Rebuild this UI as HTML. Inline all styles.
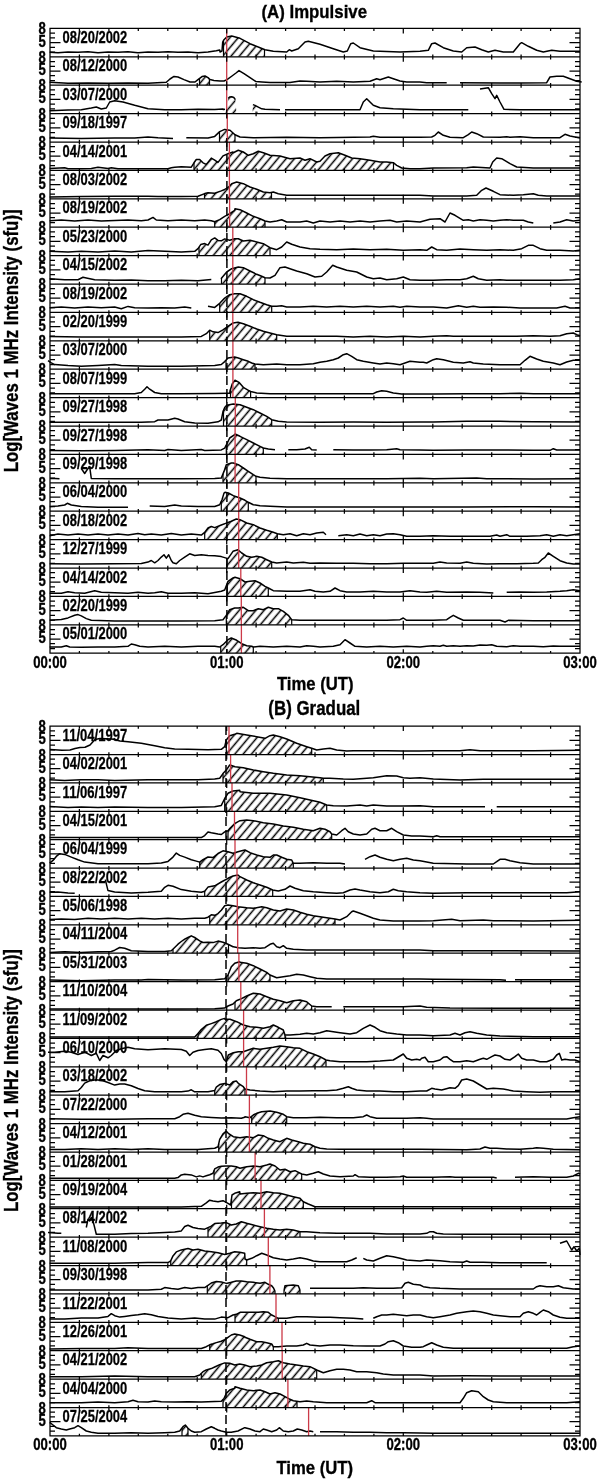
<!DOCTYPE html><html><head><meta charset="utf-8"><title>Waves 1 MHz</title><style>html,body{margin:0;padding:0;background:#fff;}svg{display:block}</style></head><body>
<svg width="600" height="1482" viewBox="0 0 600 1482" font-family="'Liberation Sans', Arial, sans-serif" font-weight="bold">
<style>text{stroke:#000;stroke-width:0.35px}text.d{stroke-width:0.28px}</style>
<defs><pattern id="hat" patternUnits="userSpaceOnUse" width="6.36" height="20" patternTransform="rotate(40)"><line x1="3.18" y1="-5" x2="3.18" y2="25" stroke="#000" stroke-width="1.5"/></pattern></defs>
<rect width="600" height="1482" fill="#fff"/>
<text x="261.5" y="17.5" font-size="19" textLength="105.5" lengthAdjust="spacingAndGlyphs">(A) Impulsive</text>
<path d="M223.5 56.8 223.5 40.5 224 39.7 226.7 37 231.7 36 240 38.3 250 43.7 260 47.7 264.5 49.5 264.5 56.8ZM199.5 85.2 199.5 78.5 202 76.6 205 76 208 77.6 209.5 79.1 209.5 85.2ZM225.5 113.6 228.3 98.3 229.6 97.1 231.7 96.7 233.8 97.5 235.4 99.6 236.5 113.6ZM252.5 113.6 252.9 104.6 255 105.4 258 106.9 258 113.6ZM219.5 142 219.5 131.7 219.7 131.6 224.7 129.4 229.7 130.3 230 130.3 235 134.7 235 142ZM194 170.4 194 162.8 196.3 159.5 199.7 159.5 203 162.8 206.3 164.4 211.3 158.1 214.7 160.1 218 162.4 223 155.9 228 153.7 233 152 233.3 152.7 238.3 150.3 243.3 152 248.3 155.3 253.3 153.7 258.3 151.3 263.3 152.7 270 155.3 280 156 290 158.7 300 158 305 160.3 310 158.7 316.7 162 320 161.3 325 156 330 153.7 338.3 152.7 345 155.3 351.7 158 360 158.7 370 160.3 380 162 386.7 162 393.3 162.7 393.5 162.8 393.5 170.4ZM204.5 198.8 204.5 193.6 204.7 193.6 208 192.8 214.7 193.2 221.3 190.9 224.7 189.5 229.7 186 231.7 183.7 236.7 182 243.3 183.7 250 187 256.7 189.3 263.3 192 270 192.7 271.5 192.4 271.5 198.8ZM214.7 227.2 214.7 221.8 219.7 219.6 224.7 216.3 229.7 213.7 234.7 210.3 235 208.7 240 209.7 246.7 213 253.3 216.3 260 218.7 265 221 265 227.2ZM199 255.6 199 247.1 200.7 244.6 204.7 243.6 208 245.1 211.3 239.8 214.7 237.9 218 240.4 221.3 240.8 224.7 238.9 229.7 240.3 234.7 238.7 238.3 238.7 243.3 241 250 240.3 256.7 242 263.3 243.7 270 247.7 270 255.6ZM221.5 284 221.5 278.1 226.7 272 231.7 268.7 238.3 267 243.3 267.7 250 271 256.7 274.3 261.7 276.3 265 277.7 265 284ZM219.7 312.4 219.7 303.2 224.7 298.1 229.7 294.7 234.7 293.7 240 293.7 246.7 296.3 253.3 299.7 260 302.3 266.7 304.7 271.7 306.3 271.7 306.3 271.7 312.4ZM209.7 340.8 209.7 330.2 213 331.8 218 332.6 223 329.8 228 326.3 233 323 238 322.3 243.3 323.7 250 326.3 256.7 329 263.3 331.3 270 333 276.7 334.7 276.7 334.7 276.7 340.8ZM226 369.2 226 360.1 228 358 234.7 357 238.3 358 243.3 359.7 248.3 361.3 251.7 363 255 364 255 369.2ZM230.5 397.6 230.5 389.5 232.2 384 235 380.2 239.4 382.7 243.7 387.7 249.3 390.8 250.6 391.4 250.6 391.4 250.6 397.6ZM223.5 426 223.5 410.3 224.7 407.5 226.7 405.3 233.3 404 240 404.7 246.7 407.3 253.3 409.7 260 413 266.7 416.3 271.7 419.7 271.7 419.7 271.7 426ZM226.3 454.4 226.3 445 227.3 443 229.7 438 234.7 434.7 235 434 240 436.3 246.7 439.7 253.3 443 260 446.3 263.3 448 263.3 454.4ZM223 482.8 223 473.9 224 471.4 226.3 464.7 231.3 463 233.3 463 238.3 464.7 243.3 468 248.3 471.3 253.3 474.7 256 476.3 256 482.8ZM221.3 511.2 221.3 501.3 222 499.7 224 493.1 225 492.3 228.3 493 233.3 495.7 240 498 245 500.3 248.3 502.3 248.3 511.2ZM204.7 539.6 204.7 532.4 208 528 211.3 526.5 214.7 527.6 221.3 525 226.3 523.1 231.3 521.3 236.3 519 240 519.7 246.7 523 253.3 524.7 260 528 266.7 530.3 273.3 532.3 277.3 533.7 277.3 539.6ZM227 568 227 558.3 228 558.7 233 551.3 238 549.7 241.7 553 246.7 556.3 251.7 557.3 256.7 556.3 261.7 557.3 266.7 559.7 271.7 562 271.7 562 271.7 568ZM227.3 596.4 227.3 583.1 228 581.3 233 578 235 577.3 240 578.7 245 582 250 581.3 255 580.7 260 583 265 586.3 268.3 588 268.3 596.4ZM226.3 624.8 226.3 615.4 226.3 615.4 229.7 609.7 234.7 608 238.3 608 243.3 607.3 248.3 610.7 253.3 610.7 258.3 608.7 263.3 609.7 268.3 607.3 273.3 608.7 278.3 608.7 283.3 611.3 288.3 615.3 291.7 619.7 291.7 619.7 291.7 624.8ZM220.7 653.2 220.7 646.3 223 644.7 228 639.7 231.3 638 236.7 640.3 241.7 643.7 246.7 645.7 251.7 646.3 253.3 647 253.3 653.2Z" fill="url(#hat)" stroke="none"/>
<path d="M223.5 56.8V40.5M264.5 56.8V49.5M199.5 85.2V78.5M209.5 85.2V79.1M219.5 142V131.7M235 142V134.7M194 170.4V162.8M393.5 170.4V162.8M204.5 198.8V193.6M271.5 198.8V192.4M214.7 227.2V221.8M265 227.2V221M199 255.6V247.1M270 255.6V247.7M221.5 284V278.1M265 284V277.7M219.7 312.4V303.2M271.7 312.4V306.3M209.7 340.8V330.2M276.7 340.8V334.7M226 369.2V360.1M255 369.2V364M230.5 397.6V389.5M250.6 397.6V391.4M223.5 426V410.3M271.7 426V419.7M226.3 454.4V445M263.3 454.4V448M223 482.8V473.9M256 482.8V476.3M221.3 511.2V501.3M248.3 511.2V502.3M204.7 539.6V532.4M277.3 539.6V533.7M227 568V558.3M271.7 568V562M227.3 596.4V583.1M268.3 596.4V588M226.3 624.8V615.4M291.7 624.8V619.7M220.7 653.2V646.3M253.3 653.2V647" fill="none" stroke="#000" stroke-width="1.2"/>
<path d="M49.7 52.3 58 52.7 68 52 78 52.3 88 51.7 98 52.7 108 52 118 52.3 128 51.7 138 52.7 148 52 158 52.3 168 51.7 178 52.3 188 52 198 52.7 208 51.9 216.3 50.8 219.7 50 220 52 222 51 222.7 42 224 39.7 226.7 37 231.7 36 240 38.3 250 43.7 260 47.7 265 49.7 273.3 51.3 286.7 52 289.3 49.7 291.7 51 298.3 48.7 305 42 308.3 41.3 320 44.3 333.3 48.7 343.3 52 347.3 51 350.7 43.7 353.3 43 360 47.7 373.3 51 400 52 420 51.3 428.3 50.3 431.7 43.7 435 43 443.3 47.7 453.3 51 461.7 52 466.7 47.7 475 47 481.7 49.7 488.3 52 495 50.3 503.3 52 513.3 52 520 43.7 521.7 42.7 528.3 46.3 536.7 50.3 543.3 52 551.7 50.3 560 51.3 580 51.3M49.7 82.3 68 83.3 88 83 108 83.3 128 83 148 83.3 166.3 82.3 170 79 174 76.4 178 77 184 79.6 190 82 195 82 198 79.6 202 76.6 205 76 208 77.6 210 79.6 214 80.4 220 81 224 81 227 79.6 232 76 236 73 239 70.6 244 73.6 250 77.6 256 81.6 262 82 270 82.4 290 82.6 300 81 306.7 81.3 320 82 336.7 81.3 353.3 82 370 81.3 376.7 78.7 380 79.7 388.3 77 393.3 78.7 400 81 406.7 82 420 82 426.7 82.7 446.7 82.7M460 82.7 500 83 520 83 546.7 82.7 550 77 556.7 76.3 563.3 76.3 570 78.7 576.7 81.3 581.7 82M49.7 110.7 68 110 81.3 109.7 91.3 108 96.3 107 101.3 109 106.3 108 109.7 102 114.7 100.7 123 102 134.7 105.3 148 108.7 164.7 109.7 181.3 109.7 198 109.3 214.7 109.6 223 108.9 223.3 109.6 225 109.2M228.3 98.3 229.6 97.1 231.7 96.7 233.8 97.5 235.4 99.6M252.9 104.6 255 105.4 258.3 107.1 261.7 108.8 265 109.2 280 109.7M285 109.7 360 109.7 363.3 102 366.7 98.7 373.3 105.3 380 107.7 393.3 108.7 420 109.7 468.3 109.7M480 89 488.3 87.7 491.7 93.7 495 98.7 496.7 95.3 500 102 504 109.3 520 109.7 580 109.7M49.7 138 81.3 138.4 114.7 138 134.7 138 148 137 158 137.7 173 138.4M186.3 137.7 208 137.9 214.7 136.4 219.7 131.6 224.7 129.4 229.7 130.3 230 130.3 235 134.7 240 137 253.3 137.7 286.7 137.3 320 137.7 370 137 373.3 136.3 380 137.3 420 137.3 431.7 137 435 135.3 438.3 132 443.3 135.3 450 137.3 463.3 137.7 468.3 134.7 471.7 132 476.7 133.7 483.3 137 500 137.3 506.7 136.7 510 137.3 520 136.7 533.3 137.7 560 137.7 565 134.3 570 136 580 138M49.7 168.5 64.7 167.8 68 168.8 81.3 168.8 91.3 168.5 98 167.2 108 168.5 111.3 167.8 118 168.8 148 168.8 168 168.8 171.3 167.8 174.7 167.2 181.3 166.8 191.3 167.2 194 162.8 196.3 159.5 199.7 159.5 203 162.8 206.3 164.4 211.3 158.1 214.7 160.1 218 162.4 223 155.9 228 153.7 233 152 233.3 152.7 238.3 150.3 243.3 152 248.3 155.3 253.3 153.7 258.3 151.3 263.3 152.7 270 155.3 280 156 290 158.7 300 158 305 160.3 310 158.7 316.7 162 320 161.3 325 156 330 153.7 338.3 152.7 345 155.3 351.7 158 360 158.7 370 160.3 380 162 386.7 162 393.3 162.7 396.7 165.3 401.7 168 410 168.7 420 168.7 433.3 168 466.7 167.7 473.3 167 490 168 492.7 162 496.7 158 501.7 158.7 510 163.7 516.7 167 533.3 168 580 168M49.7 196.9 81.3 196.6 114.7 196.2 148 196.2 158 196.6 181.3 196.6 198 196.2 204.7 193.6 208 192.8 214.7 193.2 221.3 190.9 224.7 189.5 229.7 186 231.7 183.7 236.7 182 243.3 183.7 250 187 256.7 189.3 263.3 192 270 192.7 273.3 192 278.3 193.7 286.7 195.3 303.3 195.3 420 195.3 433.3 196 466.7 196 476.7 195.3 481.7 190.3 486 188 493.3 191.3 500 194.7 513.3 195.3 523.3 194.7 533.3 193.7 538.3 195.3 546.7 196 580 196M49.7 220.7 61.3 220 74.7 221 88 220 101.3 221 114.7 220.4 128 220 141.3 220.7 148 220 153 217.4 156.3 220 168 220.7 181.3 220 194.7 220.7 204.7 220 211.3 220.8 214.7 221.8 219.7 219.6 224.7 216.3 229.7 213.7 234.7 210.3 235 208.7 240 209.7 246.7 213 253.3 216.3 260 218.7 265 221 270 222 276.7 221 281.7 219.7 286.7 222 300 222 306.7 221 313.3 223 320 221 330 222 340 221 350 222 360 221 370 222 380 221 390 220.3 396.7 222 406.7 221 420 222 430 219.3 440 218.7 445 222 450 213 455 215.3 463.3 220.3 468.3 219.7 473.3 221 480 219.7 486.7 220.3 493.3 221 500 220.3 506.7 219.7 513.3 220.3 523.3 220.3 528.3 222 533.3 223M553.3 223 560 222 566.7 219.7 573.3 221 580 220.3M49.7 251.3 68 251.9 81.3 251.3 98 251.9 114.7 250.9 131.3 251.9 148 250.6 164.7 251.3 181.3 251.9 194.7 251.3 198 248.6 200.7 244.6 204.7 243.6 208 245.1 211.3 239.8 214.7 237.9 218 240.4 221.3 240.8 224.7 238.9 229.7 240.3 234.7 238.7 238.3 238.7 243.3 241 250 240.3 256.7 242 263.3 243.7 270 247.7 276.7 249.7 281.7 247 286.7 242 291.7 244.3 300 247 310 248.7 320 249.3 336.7 249.7 353.3 249 370 249.7 386.7 249.3 403.3 250.3 420 249.7 426.7 250.3 431.7 247 436.7 249.7 446.7 250.3 460 249 473.3 249.7 486.7 250.3 500 249.7 513.3 250.3 521.7 248.7 528.3 245.3 533.3 245.3 540 248.7 546.7 250.3 560 250.3 573.3 251 580 250.3M49.7 278.7 64.7 279.7 78 279.7 83 277.3 86.3 278 94.7 279.7 114.7 280.3 131.3 280 148 280.7 164.7 280.7 181.3 280.3 198 280.7 211.3 279.4M221 278.7 226.7 272 231.7 268.7 238.3 267 243.3 267.7 250 271 256.7 274.3 261.7 276.3 265 277.7 270 278 275 275.3 280 267.7 285 267 290 268.7 296.7 271 306.7 273.7 315 277 321.7 276.3 326.7 272 332.7 265.3 336.7 267 346.7 270.3 356.7 272 366.7 277 373.3 278.7 380 278 386.7 279.7 396.7 278.7 403.3 277 410 279.7 420 280.3 433.3 280.3 446.7 279.7 460 279.7 466.7 278.7 473.3 276.3 478.3 278.7 486.7 280.3 500 279.7 506.7 280.3 520 280.3 533.3 280.3 546.7 280.3 560 280.3 573.3 279.7 580 278.7M49.7 307.7 61.3 307 74.7 308 88 307 101.3 307.7 114.7 307 121.3 308.7 128 306.4 134.7 307.7 148 308 161.3 307.7 174.7 308 184.7 307 191.3 308M208 306.3 214.7 307.4 219.7 303.3 224.7 298.1 229.7 294.7 234.7 293.7 240 293.7 246.7 296.3 253.3 299.7 260 302.3 266.7 304.7 271.7 306.3 276.7 306.3 281.7 305.7 286.7 307 300 307 313.3 306.3 326.7 307 340 306.3 353.3 307 366.7 306.3 380 307 393.3 306.3 400 307.3 406.7 306.3 420 307 433.3 307 446.7 308 458.3 305.7 466.7 307.3 473.3 306.3 480 307.3 493.3 307 506.7 307.3 520 308 533.3 308 546.7 308 556.7 308 565 306.3 570 308 580 308M49.7 336.4 81.3 337 114.7 337 148 337 181.3 337 201.3 336.4 206.3 333.7 209.7 330.2 213 331.8 218 332.6 223 329.8 228 326.3 233 323 238 322.3 243.3 323.7 250 326.3 256.7 329 263.3 331.3 270 333 276.7 334.7 286.7 336.3 303.3 336.3 320 336.3 336.7 336.3 353.3 337 370 336.3 386.7 337 403.3 336.3 420 337 433.3 336.3 446.7 335.7 453.3 336.3 466.7 336.3 483.3 336.3 500 336.3 516.7 336.3 533.3 335.7 550 336.3 560 335.7 566.7 333.7 573.3 333 576.7 334.7 580 335.7M48 360.6 51.3 362.9 54.7 364.6 68 365.6 81.3 366.3 98 365.6 114.7 364.6 121.3 365.6 148 366.3 181.3 366.3 214.7 365.6 221.3 364.5 224.7 361.6 228 358 234.7 357 238.3 358 243.3 359.7 248.3 361.3 251.7 363 255 364 263.3 364.7 276.7 364 286.7 364.7 300 364.7 313.3 363.7 320 362.3 326.7 361.3 333.3 359.7 338.3 358 343.3 354.7 346.7 353.7 351.7 356.3 356.7 359.7 363.3 361.3 373.3 363 380 364 386.7 363 393.3 363.7 400 364.7 405 363 410 361.3 420 362.3 423.3 362.3 426.7 363 433.3 359.7 436.7 358.7 443.3 359.7 453.3 362.3 463.3 363 470 361.7 473.3 363 483.3 364 500 364.7 520 364.7 525 360.3 530 356.3 536.7 359 543.3 361.3 553.3 363 560 364.7 566.7 362 573.3 360.3 580 360.3M49.7 393.8 81.3 393.8 114.7 393.8 134.7 393.8 141.3 392.5 144.7 389.2 147 386.8 149.7 389.2 154.7 392.5 161.3 393.8 181.3 393.8 214.7 393.6 228 393.3 229.7 393.3 230.1 390.8 232.2 384 235 380.2 239.4 382.7 243.7 387.7 249.3 390.8 250.6 391.4 256.7 393 270 393.7 286.7 393.7 320 393.7 353.3 393.7 373.3 393.7 376.7 392 381.7 390.7 386.7 391.3 393.3 393 401.7 394 420 394 433.3 394 466.7 393.7 500 393.7 520 393.3 533.3 393.7 580 393.7M49.7 422.3 81.3 422.3 114.7 422.3 141.3 422.3 154.7 421.7 158 420 168 420 174.7 418.3 178 419 184.7 421.7 194.7 423 208 423.2 218 421.8 221.3 420 223 411.6 224.7 407.5 226.7 405.3 233.3 404 240 404.7 246.7 407.3 253.3 409.7 260 413 266.7 416.3 271.7 419.7 278.3 421.3 286.7 422 320 422.3 353.3 422 386.7 422.3 420 422 433.3 422 466.7 421.3 500 421.3 533.3 421.7 580 422M49.7 450.5 81.3 450.8 114.7 450.5 148 449.8 164.7 450.5 168 449.5 181.3 450.5 201.3 449.5 204.7 450.5 221.3 449.9 224.7 448.1 227.3 443 229.7 438 234.7 434.7 235 434 240 436.3 246.7 439.7 253.3 443 260 446.3 263.3 448 268.3 449 275 449.7M288.3 449.7 296.7 449.7 305 449 309.3 447.3 311.7 449.7 316.7 450M333.3 449.7 353.3 450 370 450 386.7 449.7 396.7 448.7 400 449.7 420 450 433.3 450.3 466.7 450 500 450 533.3 450.3 550 450.3 553.3 448.7 556.7 450 580 450M50.2 478.6 55 478.5 59.5 478.7M81.3 468.5 84.7 473.5 87.3 469.5 89.7 466.8 91.3 478.5 114.7 478.8 148 478.8 181.3 478.8 214.7 478.6 221.3 478.1 224 471.4 226.3 464.7 231.3 463 233.3 463 238.3 464.7 243.3 468 248.3 471.3 253.3 474.7 256 476.3 260 477.3 270 478.3 286.7 478.7 320 478.7 353.3 478.7 386.7 478.7 420 478.3 433.3 478.7 476.7 478 486.7 478.7 533.3 479 580 478.7M49.7 506.6 58 506 64.7 505 67.3 503.3 71.3 505 81.3 506.6 98 507.3 114.7 507.3 128 507.3M149.7 506 164.7 506.6 174.7 505 181.3 506 198 506.6 214.7 506.5 219.7 504.8 222 499.7 224 493.1 225 492.3 228.3 493 233.3 495.7 240 498 245 500.3 248.3 502.3 253.3 504.7 260 505.7 270 506.3 286.7 507 320 507 353.3 507 386.7 507 420 507 466.7 507 533.3 506.7 580 507M49.7 535.8 58 534.1 68 535.1 78 534.1 88 535.1 98 534.1 108 535.1 118 534.1 128 535.1 138 533.4 144.7 534.8 151.3 534.1 161.3 535.1 171.3 533.4 181.3 535.1 191.3 534.1 201.3 535.1 204.7 532.4 208 528 211.3 526.5 214.7 527.6 221.3 525 226.3 523.1 231.3 521.3 236.3 519 240 519.7 246.7 523 253.3 524.7 260 528 266.7 530.3 273.3 532.3 277.3 533.7 283.3 534.7 290 533.7 296.7 535.7 303.3 533.7 310 534.7 316.7 533 323.3 532.3 326 534.7M338.3 535.7 346.7 534.7 353.3 535.7 360 534 366.7 535.7 373.3 534.7 380 535.7 386.7 534 393.3 533.7 400 534.7 406.7 536.3 420 536.3 433.3 535.7 450 536.3 466.7 536.3 490 536.3 496.7 535 500 536.3 506.7 534.7 510 536.3 526.7 536.3 540 535.7 546.7 534.7 553.3 536.3 560 534.7 566.7 535.7 573.3 534.7 580 533.7M49.7 563.8 81.3 564.1 114.7 563.8 141.3 563.5 148 562.1 151.3 560.5 154.7 562.8 158 560.5 161.3 557.1 164 554.8 166.3 558.1 168.7 554.8 171.3 560.5 173 562.8 176.3 563.8 179.7 560.5 184.7 557.1 189.7 553.8 194.7 555.5 201.3 554.8 208 555.4 214.7 555.8 221.3 556.6 226.3 558.1 228 558.7 233 551.3 238 549.7 241.7 553 246.7 556.3 251.7 557.3 256.7 556.3 261.7 557.3 266.7 559.7 271.7 562 276.7 563 286.7 562 293.3 563 303.3 562.3 310 563.3 320 563 336.7 563.3 353.3 563.3 370 563.7 386.7 563.7 403.3 563.3 420 563.3 433.3 563.3 440 562 446.7 563 460 563.3 466.7 562 473.3 563.3 486.7 564 500 563.7 516.7 563.7 533.3 563.3 538.3 563 541.7 559.7 545 557.3 548.3 553 553.3 556.3 560 560.7 566.7 563 573.3 564 580 564M49.7 593.3 61.3 593.3 68 591.7 74.7 592.7 84.7 593.3 94.7 590.7 101.3 592.3 114.7 592.7 128 593.3 138 592.3 148 593.3 154.7 592.7 161.3 591.7 168 593.3 181.3 593.3 194.7 592.7 208 593.7 214.7 592.5 221.3 591.2 224.7 590 228 581.3 233 578 235 577.3 240 578.7 245 582 250 581.3 255 580.7 260 583 265 586.3 268.3 588 273.3 590.7 286.7 591.3 300 591.3 310 589.7 315 591.3 323.3 592 330 591.3 335 588 340 590.7 346.7 592 360 592 373.3 591.3 386.7 592 400 592 410 590.7 420 592 426.7 592.3 436.7 591.3 446.7 592.3 466.7 592 480 592.3 493.3 593M506.7 592.3 520 592 533.3 592.3 546.7 592 560 591.3 566.7 590.7 573.3 589.7 580 590.7M49.7 620.3 61.3 619.6 68 617.9 74.7 615.3 78 614.6 81.3 615.9 86.3 618.6 91.3 620.3 114.7 620.9 148 620.9 181.3 620.9 214.7 620.7 223 619.8 226.3 615.4 229.7 609.7 234.7 608 238.3 608 243.3 607.3 248.3 610.7 253.3 610.7 258.3 608.7 263.3 609.7 268.3 607.3 273.3 608.7 278.3 608.7 283.3 611.3 288.3 615.3 291.7 619.7 300 620.3 320 620.3 353.3 620.3 386.7 620.3 400 619.7 403.3 618 406.7 620.3 420 620.3 433.3 620.3 446.7 619.7 450 617.3 453.3 615.3 458.3 618 463.3 620.3 483.3 620.3 500 620.3 505 622 508.3 620.3 533.3 620.7 580 620.7M49.7 647 61.3 647 66.3 645.7 69.7 647 81.3 647.3 98 647 114.7 647 128 646.3 131.3 644 134.7 644.7 139.7 646.3 148 647 164.7 646.3 181.3 647 198 646.3 214.7 646.3 219.7 647 223 644.7 228 639.7 231.3 638 236.7 640.3 241.7 643.7 246.7 645.7 251.7 646.3 253.3 647 260 646.3 273.3 647 286.7 646.3 300 647 306.7 645.7 313.3 646.3 320 647 333.3 646.3 340 644.7 345 639.7 350 643 355 646.3 366.7 647 380 646.3 393.3 647 406.7 646.3 420 647 426.7 646.3 433.3 645.7 440 646.3 443.3 645.3 446.7 646.3 453.3 645.7 460 646.3 466.7 645.7 473.3 646 480 645 486.7 645.3 491.7 644.7 496.7 646.3 506.7 646.7 513.3 645.7 520 646.3 533.3 646.3 543.3 646.7 553.3 646 560 646.3 566.7 646.3 580 646.3" fill="none" stroke="#000" stroke-width="1.5" stroke-linejoin="round"/>
<line x1="226.9" y1="142" x2="226.9" y2="653.2" stroke="#000" stroke-width="1.5" stroke-dasharray="9,4"/>
<path d="M226.7 28.4V56.8M226.7 56.8V85.2M226.7 85.2V113.6M227.3 113.6V142M229.4 142V170.4M229.4 170.4V198.8M229.6 198.8V227.2M232.8 227.2V255.6M232.8 255.6V284M232.8 284V312.4M232.8 312.4V340.8M232.9 340.8V369.2M232.9 369.2V397.6M235.3 397.6V426M235.1 426V454.4M235.1 454.4V482.8M238.7 482.8V511.2M238.7 511.2V539.6M238.7 539.6V568M240.8 568V596.4M241.3 596.4V624.8M241.4 624.8V653.2" stroke="#cc3a48" stroke-width="1.3" fill="none"/>
<path d="M50 33.1h5M580 33.1h-5M50 37.9h5M580 37.9h-5M50 42.6h10.5M580 42.6h-10.5M50 47.3h5M580 47.3h-5M50 52.1h5M580 52.1h-5M79.4 56.8v-2.2M79.4 28.4v2.6M108.9 56.8v-2.2M108.9 28.4v2.6M138.3 56.8v-2.2M138.3 28.4v2.6M167.8 56.8v-2.2M167.8 28.4v2.6M197.2 56.8v-2.2M197.2 28.4v2.6M226.7 56.8v-4M226.7 28.4v5M256.1 56.8v-2.2M256.1 28.4v2.6M285.6 56.8v-2.2M285.6 28.4v2.6M315 56.8v-2.2M315 28.4v2.6M344.4 56.8v-2.2M344.4 28.4v2.6M373.9 56.8v-2.2M373.9 28.4v2.6M403.3 56.8v-4M403.3 28.4v5M432.8 56.8v-2.2M432.8 28.4v2.6M462.2 56.8v-2.2M462.2 28.4v2.6M491.7 56.8v-2.2M491.7 28.4v2.6M521.1 56.8v-2.2M521.1 28.4v2.6M550.6 56.8v-2.2M550.6 28.4v2.6M50 61.5h5M580 61.5h-5M50 66.3h5M580 66.3h-5M50 71h10.5M580 71h-10.5M50 75.7h5M580 75.7h-5M50 80.5h5M580 80.5h-5M79.4 85.2v-2.2M79.4 56.8v2.6M108.9 85.2v-2.2M108.9 56.8v2.6M138.3 85.2v-2.2M138.3 56.8v2.6M167.8 85.2v-2.2M167.8 56.8v2.6M197.2 85.2v-2.2M197.2 56.8v2.6M226.7 85.2v-4M226.7 56.8v5M256.1 85.2v-2.2M256.1 56.8v2.6M285.6 85.2v-2.2M285.6 56.8v2.6M315 85.2v-2.2M315 56.8v2.6M344.4 85.2v-2.2M344.4 56.8v2.6M373.9 85.2v-2.2M373.9 56.8v2.6M403.3 85.2v-4M403.3 56.8v5M432.8 85.2v-2.2M432.8 56.8v2.6M462.2 85.2v-2.2M462.2 56.8v2.6M491.7 85.2v-2.2M491.7 56.8v2.6M521.1 85.2v-2.2M521.1 56.8v2.6M550.6 85.2v-2.2M550.6 56.8v2.6M50 89.9h5M580 89.9h-5M50 94.7h5M580 94.7h-5M50 99.4h10.5M580 99.4h-10.5M50 104.1h5M580 104.1h-5M50 108.9h5M580 108.9h-5M79.4 113.6v-2.2M79.4 85.2v2.6M108.9 113.6v-2.2M108.9 85.2v2.6M138.3 113.6v-2.2M138.3 85.2v2.6M167.8 113.6v-2.2M167.8 85.2v2.6M197.2 113.6v-2.2M197.2 85.2v2.6M226.7 113.6v-4M226.7 85.2v5M256.1 113.6v-2.2M256.1 85.2v2.6M285.6 113.6v-2.2M285.6 85.2v2.6M315 113.6v-2.2M315 85.2v2.6M344.4 113.6v-2.2M344.4 85.2v2.6M373.9 113.6v-2.2M373.9 85.2v2.6M403.3 113.6v-4M403.3 85.2v5M432.8 113.6v-2.2M432.8 85.2v2.6M462.2 113.6v-2.2M462.2 85.2v2.6M491.7 113.6v-2.2M491.7 85.2v2.6M521.1 113.6v-2.2M521.1 85.2v2.6M550.6 113.6v-2.2M550.6 85.2v2.6M50 118.3h5M580 118.3h-5M50 123.1h5M580 123.1h-5M50 127.8h10.5M580 127.8h-10.5M50 132.5h5M580 132.5h-5M50 137.3h5M580 137.3h-5M79.4 142v-2.2M79.4 113.6v2.6M108.9 142v-2.2M108.9 113.6v2.6M138.3 142v-2.2M138.3 113.6v2.6M167.8 142v-2.2M167.8 113.6v2.6M197.2 142v-2.2M197.2 113.6v2.6M226.7 142v-4M226.7 113.6v5M256.1 142v-2.2M256.1 113.6v2.6M285.6 142v-2.2M285.6 113.6v2.6M315 142v-2.2M315 113.6v2.6M344.4 142v-2.2M344.4 113.6v2.6M373.9 142v-2.2M373.9 113.6v2.6M403.3 142v-4M403.3 113.6v5M432.8 142v-2.2M432.8 113.6v2.6M462.2 142v-2.2M462.2 113.6v2.6M491.7 142v-2.2M491.7 113.6v2.6M521.1 142v-2.2M521.1 113.6v2.6M550.6 142v-2.2M550.6 113.6v2.6M50 146.7h5M580 146.7h-5M50 151.5h5M580 151.5h-5M50 156.2h10.5M580 156.2h-10.5M50 160.9h5M580 160.9h-5M50 165.7h5M580 165.7h-5M79.4 170.4v-2.2M79.4 142v2.6M108.9 170.4v-2.2M108.9 142v2.6M138.3 170.4v-2.2M138.3 142v2.6M167.8 170.4v-2.2M167.8 142v2.6M197.2 170.4v-2.2M197.2 142v2.6M226.7 170.4v-4M226.7 142v5M256.1 170.4v-2.2M256.1 142v2.6M285.6 170.4v-2.2M285.6 142v2.6M315 170.4v-2.2M315 142v2.6M344.4 170.4v-2.2M344.4 142v2.6M373.9 170.4v-2.2M373.9 142v2.6M403.3 170.4v-4M403.3 142v5M432.8 170.4v-2.2M432.8 142v2.6M462.2 170.4v-2.2M462.2 142v2.6M491.7 170.4v-2.2M491.7 142v2.6M521.1 170.4v-2.2M521.1 142v2.6M550.6 170.4v-2.2M550.6 142v2.6M50 175.1h5M580 175.1h-5M50 179.9h5M580 179.9h-5M50 184.6h10.5M580 184.6h-10.5M50 189.3h5M580 189.3h-5M50 194.1h5M580 194.1h-5M79.4 198.8v-2.2M79.4 170.4v2.6M108.9 198.8v-2.2M108.9 170.4v2.6M138.3 198.8v-2.2M138.3 170.4v2.6M167.8 198.8v-2.2M167.8 170.4v2.6M197.2 198.8v-2.2M197.2 170.4v2.6M226.7 198.8v-4M226.7 170.4v5M256.1 198.8v-2.2M256.1 170.4v2.6M285.6 198.8v-2.2M285.6 170.4v2.6M315 198.8v-2.2M315 170.4v2.6M344.4 198.8v-2.2M344.4 170.4v2.6M373.9 198.8v-2.2M373.9 170.4v2.6M403.3 198.8v-4M403.3 170.4v5M432.8 198.8v-2.2M432.8 170.4v2.6M462.2 198.8v-2.2M462.2 170.4v2.6M491.7 198.8v-2.2M491.7 170.4v2.6M521.1 198.8v-2.2M521.1 170.4v2.6M550.6 198.8v-2.2M550.6 170.4v2.6M50 203.5h5M580 203.5h-5M50 208.3h5M580 208.3h-5M50 213h10.5M580 213h-10.5M50 217.7h5M580 217.7h-5M50 222.5h5M580 222.5h-5M79.4 227.2v-2.2M79.4 198.8v2.6M108.9 227.2v-2.2M108.9 198.8v2.6M138.3 227.2v-2.2M138.3 198.8v2.6M167.8 227.2v-2.2M167.8 198.8v2.6M197.2 227.2v-2.2M197.2 198.8v2.6M226.7 227.2v-4M226.7 198.8v5M256.1 227.2v-2.2M256.1 198.8v2.6M285.6 227.2v-2.2M285.6 198.8v2.6M315 227.2v-2.2M315 198.8v2.6M344.4 227.2v-2.2M344.4 198.8v2.6M373.9 227.2v-2.2M373.9 198.8v2.6M403.3 227.2v-4M403.3 198.8v5M432.8 227.2v-2.2M432.8 198.8v2.6M462.2 227.2v-2.2M462.2 198.8v2.6M491.7 227.2v-2.2M491.7 198.8v2.6M521.1 227.2v-2.2M521.1 198.8v2.6M550.6 227.2v-2.2M550.6 198.8v2.6M50 231.9h5M580 231.9h-5M50 236.7h5M580 236.7h-5M50 241.4h10.5M580 241.4h-10.5M50 246.1h5M580 246.1h-5M50 250.9h5M580 250.9h-5M79.4 255.6v-2.2M79.4 227.2v2.6M108.9 255.6v-2.2M108.9 227.2v2.6M138.3 255.6v-2.2M138.3 227.2v2.6M167.8 255.6v-2.2M167.8 227.2v2.6M197.2 255.6v-2.2M197.2 227.2v2.6M226.7 255.6v-4M226.7 227.2v5M256.1 255.6v-2.2M256.1 227.2v2.6M285.6 255.6v-2.2M285.6 227.2v2.6M315 255.6v-2.2M315 227.2v2.6M344.4 255.6v-2.2M344.4 227.2v2.6M373.9 255.6v-2.2M373.9 227.2v2.6M403.3 255.6v-4M403.3 227.2v5M432.8 255.6v-2.2M432.8 227.2v2.6M462.2 255.6v-2.2M462.2 227.2v2.6M491.7 255.6v-2.2M491.7 227.2v2.6M521.1 255.6v-2.2M521.1 227.2v2.6M550.6 255.6v-2.2M550.6 227.2v2.6M50 260.3h5M580 260.3h-5M50 265.1h5M580 265.1h-5M50 269.8h10.5M580 269.8h-10.5M50 274.5h5M580 274.5h-5M50 279.3h5M580 279.3h-5M79.4 284v-2.2M79.4 255.6v2.6M108.9 284v-2.2M108.9 255.6v2.6M138.3 284v-2.2M138.3 255.6v2.6M167.8 284v-2.2M167.8 255.6v2.6M197.2 284v-2.2M197.2 255.6v2.6M226.7 284v-4M226.7 255.6v5M256.1 284v-2.2M256.1 255.6v2.6M285.6 284v-2.2M285.6 255.6v2.6M315 284v-2.2M315 255.6v2.6M344.4 284v-2.2M344.4 255.6v2.6M373.9 284v-2.2M373.9 255.6v2.6M403.3 284v-4M403.3 255.6v5M432.8 284v-2.2M432.8 255.6v2.6M462.2 284v-2.2M462.2 255.6v2.6M491.7 284v-2.2M491.7 255.6v2.6M521.1 284v-2.2M521.1 255.6v2.6M550.6 284v-2.2M550.6 255.6v2.6M50 288.7h5M580 288.7h-5M50 293.5h5M580 293.5h-5M50 298.2h10.5M580 298.2h-10.5M50 302.9h5M580 302.9h-5M50 307.7h5M580 307.7h-5M79.4 312.4v-2.2M79.4 284v2.6M108.9 312.4v-2.2M108.9 284v2.6M138.3 312.4v-2.2M138.3 284v2.6M167.8 312.4v-2.2M167.8 284v2.6M197.2 312.4v-2.2M197.2 284v2.6M226.7 312.4v-4M226.7 284v5M256.1 312.4v-2.2M256.1 284v2.6M285.6 312.4v-2.2M285.6 284v2.6M315 312.4v-2.2M315 284v2.6M344.4 312.4v-2.2M344.4 284v2.6M373.9 312.4v-2.2M373.9 284v2.6M403.3 312.4v-4M403.3 284v5M432.8 312.4v-2.2M432.8 284v2.6M462.2 312.4v-2.2M462.2 284v2.6M491.7 312.4v-2.2M491.7 284v2.6M521.1 312.4v-2.2M521.1 284v2.6M550.6 312.4v-2.2M550.6 284v2.6M50 317.1h5M580 317.1h-5M50 321.9h5M580 321.9h-5M50 326.6h10.5M580 326.6h-10.5M50 331.3h5M580 331.3h-5M50 336.1h5M580 336.1h-5M79.4 340.8v-2.2M79.4 312.4v2.6M108.9 340.8v-2.2M108.9 312.4v2.6M138.3 340.8v-2.2M138.3 312.4v2.6M167.8 340.8v-2.2M167.8 312.4v2.6M197.2 340.8v-2.2M197.2 312.4v2.6M226.7 340.8v-4M226.7 312.4v5M256.1 340.8v-2.2M256.1 312.4v2.6M285.6 340.8v-2.2M285.6 312.4v2.6M315 340.8v-2.2M315 312.4v2.6M344.4 340.8v-2.2M344.4 312.4v2.6M373.9 340.8v-2.2M373.9 312.4v2.6M403.3 340.8v-4M403.3 312.4v5M432.8 340.8v-2.2M432.8 312.4v2.6M462.2 340.8v-2.2M462.2 312.4v2.6M491.7 340.8v-2.2M491.7 312.4v2.6M521.1 340.8v-2.2M521.1 312.4v2.6M550.6 340.8v-2.2M550.6 312.4v2.6M50 345.5h5M580 345.5h-5M50 350.3h5M580 350.3h-5M50 355h10.5M580 355h-10.5M50 359.7h5M580 359.7h-5M50 364.5h5M580 364.5h-5M79.4 369.2v-2.2M79.4 340.8v2.6M108.9 369.2v-2.2M108.9 340.8v2.6M138.3 369.2v-2.2M138.3 340.8v2.6M167.8 369.2v-2.2M167.8 340.8v2.6M197.2 369.2v-2.2M197.2 340.8v2.6M226.7 369.2v-4M226.7 340.8v5M256.1 369.2v-2.2M256.1 340.8v2.6M285.6 369.2v-2.2M285.6 340.8v2.6M315 369.2v-2.2M315 340.8v2.6M344.4 369.2v-2.2M344.4 340.8v2.6M373.9 369.2v-2.2M373.9 340.8v2.6M403.3 369.2v-4M403.3 340.8v5M432.8 369.2v-2.2M432.8 340.8v2.6M462.2 369.2v-2.2M462.2 340.8v2.6M491.7 369.2v-2.2M491.7 340.8v2.6M521.1 369.2v-2.2M521.1 340.8v2.6M550.6 369.2v-2.2M550.6 340.8v2.6M50 373.9h5M580 373.9h-5M50 378.7h5M580 378.7h-5M50 383.4h10.5M580 383.4h-10.5M50 388.1h5M580 388.1h-5M50 392.9h5M580 392.9h-5M79.4 397.6v-2.2M79.4 369.2v2.6M108.9 397.6v-2.2M108.9 369.2v2.6M138.3 397.6v-2.2M138.3 369.2v2.6M167.8 397.6v-2.2M167.8 369.2v2.6M197.2 397.6v-2.2M197.2 369.2v2.6M226.7 397.6v-4M226.7 369.2v5M256.1 397.6v-2.2M256.1 369.2v2.6M285.6 397.6v-2.2M285.6 369.2v2.6M315 397.6v-2.2M315 369.2v2.6M344.4 397.6v-2.2M344.4 369.2v2.6M373.9 397.6v-2.2M373.9 369.2v2.6M403.3 397.6v-4M403.3 369.2v5M432.8 397.6v-2.2M432.8 369.2v2.6M462.2 397.6v-2.2M462.2 369.2v2.6M491.7 397.6v-2.2M491.7 369.2v2.6M521.1 397.6v-2.2M521.1 369.2v2.6M550.6 397.6v-2.2M550.6 369.2v2.6M50 402.3h5M580 402.3h-5M50 407.1h5M580 407.1h-5M50 411.8h10.5M580 411.8h-10.5M50 416.5h5M580 416.5h-5M50 421.3h5M580 421.3h-5M79.4 426v-2.2M79.4 397.6v2.6M108.9 426v-2.2M108.9 397.6v2.6M138.3 426v-2.2M138.3 397.6v2.6M167.8 426v-2.2M167.8 397.6v2.6M197.2 426v-2.2M197.2 397.6v2.6M226.7 426v-4M226.7 397.6v5M256.1 426v-2.2M256.1 397.6v2.6M285.6 426v-2.2M285.6 397.6v2.6M315 426v-2.2M315 397.6v2.6M344.4 426v-2.2M344.4 397.6v2.6M373.9 426v-2.2M373.9 397.6v2.6M403.3 426v-4M403.3 397.6v5M432.8 426v-2.2M432.8 397.6v2.6M462.2 426v-2.2M462.2 397.6v2.6M491.7 426v-2.2M491.7 397.6v2.6M521.1 426v-2.2M521.1 397.6v2.6M550.6 426v-2.2M550.6 397.6v2.6M50 430.7h5M580 430.7h-5M50 435.5h5M580 435.5h-5M50 440.2h10.5M580 440.2h-10.5M50 444.9h5M580 444.9h-5M50 449.7h5M580 449.7h-5M79.4 454.4v-2.2M79.4 426v2.6M108.9 454.4v-2.2M108.9 426v2.6M138.3 454.4v-2.2M138.3 426v2.6M167.8 454.4v-2.2M167.8 426v2.6M197.2 454.4v-2.2M197.2 426v2.6M226.7 454.4v-4M226.7 426v5M256.1 454.4v-2.2M256.1 426v2.6M285.6 454.4v-2.2M285.6 426v2.6M315 454.4v-2.2M315 426v2.6M344.4 454.4v-2.2M344.4 426v2.6M373.9 454.4v-2.2M373.9 426v2.6M403.3 454.4v-4M403.3 426v5M432.8 454.4v-2.2M432.8 426v2.6M462.2 454.4v-2.2M462.2 426v2.6M491.7 454.4v-2.2M491.7 426v2.6M521.1 454.4v-2.2M521.1 426v2.6M550.6 454.4v-2.2M550.6 426v2.6M50 459.1h5M580 459.1h-5M50 463.9h5M580 463.9h-5M50 468.6h10.5M580 468.6h-10.5M50 473.3h5M580 473.3h-5M50 478.1h5M580 478.1h-5M79.4 482.8v-2.2M79.4 454.4v2.6M108.9 482.8v-2.2M108.9 454.4v2.6M138.3 482.8v-2.2M138.3 454.4v2.6M167.8 482.8v-2.2M167.8 454.4v2.6M197.2 482.8v-2.2M197.2 454.4v2.6M226.7 482.8v-4M226.7 454.4v5M256.1 482.8v-2.2M256.1 454.4v2.6M285.6 482.8v-2.2M285.6 454.4v2.6M315 482.8v-2.2M315 454.4v2.6M344.4 482.8v-2.2M344.4 454.4v2.6M373.9 482.8v-2.2M373.9 454.4v2.6M403.3 482.8v-4M403.3 454.4v5M432.8 482.8v-2.2M432.8 454.4v2.6M462.2 482.8v-2.2M462.2 454.4v2.6M491.7 482.8v-2.2M491.7 454.4v2.6M521.1 482.8v-2.2M521.1 454.4v2.6M550.6 482.8v-2.2M550.6 454.4v2.6M50 487.5h5M580 487.5h-5M50 492.3h5M580 492.3h-5M50 497h10.5M580 497h-10.5M50 501.7h5M580 501.7h-5M50 506.5h5M580 506.5h-5M79.4 511.2v-2.2M79.4 482.8v2.6M108.9 511.2v-2.2M108.9 482.8v2.6M138.3 511.2v-2.2M138.3 482.8v2.6M167.8 511.2v-2.2M167.8 482.8v2.6M197.2 511.2v-2.2M197.2 482.8v2.6M226.7 511.2v-4M226.7 482.8v5M256.1 511.2v-2.2M256.1 482.8v2.6M285.6 511.2v-2.2M285.6 482.8v2.6M315 511.2v-2.2M315 482.8v2.6M344.4 511.2v-2.2M344.4 482.8v2.6M373.9 511.2v-2.2M373.9 482.8v2.6M403.3 511.2v-4M403.3 482.8v5M432.8 511.2v-2.2M432.8 482.8v2.6M462.2 511.2v-2.2M462.2 482.8v2.6M491.7 511.2v-2.2M491.7 482.8v2.6M521.1 511.2v-2.2M521.1 482.8v2.6M550.6 511.2v-2.2M550.6 482.8v2.6M50 515.9h5M580 515.9h-5M50 520.7h5M580 520.7h-5M50 525.4h10.5M580 525.4h-10.5M50 530.1h5M580 530.1h-5M50 534.9h5M580 534.9h-5M79.4 539.6v-2.2M79.4 511.2v2.6M108.9 539.6v-2.2M108.9 511.2v2.6M138.3 539.6v-2.2M138.3 511.2v2.6M167.8 539.6v-2.2M167.8 511.2v2.6M197.2 539.6v-2.2M197.2 511.2v2.6M226.7 539.6v-4M226.7 511.2v5M256.1 539.6v-2.2M256.1 511.2v2.6M285.6 539.6v-2.2M285.6 511.2v2.6M315 539.6v-2.2M315 511.2v2.6M344.4 539.6v-2.2M344.4 511.2v2.6M373.9 539.6v-2.2M373.9 511.2v2.6M403.3 539.6v-4M403.3 511.2v5M432.8 539.6v-2.2M432.8 511.2v2.6M462.2 539.6v-2.2M462.2 511.2v2.6M491.7 539.6v-2.2M491.7 511.2v2.6M521.1 539.6v-2.2M521.1 511.2v2.6M550.6 539.6v-2.2M550.6 511.2v2.6M50 544.3h5M580 544.3h-5M50 549.1h5M580 549.1h-5M50 553.8h10.5M580 553.8h-10.5M50 558.5h5M580 558.5h-5M50 563.3h5M580 563.3h-5M79.4 568v-2.2M79.4 539.6v2.6M108.9 568v-2.2M108.9 539.6v2.6M138.3 568v-2.2M138.3 539.6v2.6M167.8 568v-2.2M167.8 539.6v2.6M197.2 568v-2.2M197.2 539.6v2.6M226.7 568v-4M226.7 539.6v5M256.1 568v-2.2M256.1 539.6v2.6M285.6 568v-2.2M285.6 539.6v2.6M315 568v-2.2M315 539.6v2.6M344.4 568v-2.2M344.4 539.6v2.6M373.9 568v-2.2M373.9 539.6v2.6M403.3 568v-4M403.3 539.6v5M432.8 568v-2.2M432.8 539.6v2.6M462.2 568v-2.2M462.2 539.6v2.6M491.7 568v-2.2M491.7 539.6v2.6M521.1 568v-2.2M521.1 539.6v2.6M550.6 568v-2.2M550.6 539.6v2.6M50 572.7h5M580 572.7h-5M50 577.5h5M580 577.5h-5M50 582.2h10.5M580 582.2h-10.5M50 586.9h5M580 586.9h-5M50 591.7h5M580 591.7h-5M79.4 596.4v-2.2M79.4 568v2.6M108.9 596.4v-2.2M108.9 568v2.6M138.3 596.4v-2.2M138.3 568v2.6M167.8 596.4v-2.2M167.8 568v2.6M197.2 596.4v-2.2M197.2 568v2.6M226.7 596.4v-4M226.7 568v5M256.1 596.4v-2.2M256.1 568v2.6M285.6 596.4v-2.2M285.6 568v2.6M315 596.4v-2.2M315 568v2.6M344.4 596.4v-2.2M344.4 568v2.6M373.9 596.4v-2.2M373.9 568v2.6M403.3 596.4v-4M403.3 568v5M432.8 596.4v-2.2M432.8 568v2.6M462.2 596.4v-2.2M462.2 568v2.6M491.7 596.4v-2.2M491.7 568v2.6M521.1 596.4v-2.2M521.1 568v2.6M550.6 596.4v-2.2M550.6 568v2.6M50 601.1h5M580 601.1h-5M50 605.9h5M580 605.9h-5M50 610.6h10.5M580 610.6h-10.5M50 615.3h5M580 615.3h-5M50 620.1h5M580 620.1h-5M79.4 624.8v-2.2M79.4 596.4v2.6M108.9 624.8v-2.2M108.9 596.4v2.6M138.3 624.8v-2.2M138.3 596.4v2.6M167.8 624.8v-2.2M167.8 596.4v2.6M197.2 624.8v-2.2M197.2 596.4v2.6M226.7 624.8v-4M226.7 596.4v5M256.1 624.8v-2.2M256.1 596.4v2.6M285.6 624.8v-2.2M285.6 596.4v2.6M315 624.8v-2.2M315 596.4v2.6M344.4 624.8v-2.2M344.4 596.4v2.6M373.9 624.8v-2.2M373.9 596.4v2.6M403.3 624.8v-4M403.3 596.4v5M432.8 624.8v-2.2M432.8 596.4v2.6M462.2 624.8v-2.2M462.2 596.4v2.6M491.7 624.8v-2.2M491.7 596.4v2.6M521.1 624.8v-2.2M521.1 596.4v2.6M550.6 624.8v-2.2M550.6 596.4v2.6M50 629.5h5M580 629.5h-5M50 634.3h5M580 634.3h-5M50 639h10.5M580 639h-10.5M50 643.7h5M580 643.7h-5M50 648.5h5M580 648.5h-5M79.4 653.2v-2.2M79.4 624.8v2.6M108.9 653.2v-2.2M108.9 624.8v2.6M138.3 653.2v-2.2M138.3 624.8v2.6M167.8 653.2v-2.2M167.8 624.8v2.6M197.2 653.2v-2.2M197.2 624.8v2.6M226.7 653.2v-4M226.7 624.8v5M256.1 653.2v-2.2M256.1 624.8v2.6M285.6 653.2v-2.2M285.6 624.8v2.6M315 653.2v-2.2M315 624.8v2.6M344.4 653.2v-2.2M344.4 624.8v2.6M373.9 653.2v-2.2M373.9 624.8v2.6M403.3 653.2v-4M403.3 624.8v5M432.8 653.2v-2.2M432.8 624.8v2.6M462.2 653.2v-2.2M462.2 624.8v2.6M491.7 653.2v-2.2M491.7 624.8v2.6M521.1 653.2v-2.2M521.1 624.8v2.6M550.6 653.2v-2.2M550.6 624.8v2.6M49.4 28.4H580.6M49.4 56.8H580.6M49.4 85.2H580.6M49.4 113.6H580.6M49.4 142H580.6M49.4 170.4H580.6M49.4 198.8H580.6M49.4 227.2H580.6M49.4 255.6H580.6M49.4 284H580.6M49.4 312.4H580.6M49.4 340.8H580.6M49.4 369.2H580.6M49.4 397.6H580.6M49.4 426H580.6M49.4 454.4H580.6M49.4 482.8H580.6M49.4 511.2H580.6M49.4 539.6H580.6M49.4 568H580.6M49.4 596.4H580.6M49.4 624.8H580.6M49.4 653.2H580.6M50 28.4V653.2M580 28.4V653.2" stroke="#000" stroke-width="1.25" fill="none"/>
<text x="45.9" y="34.4" text-anchor="end" font-size="15.6" textLength="7.3" lengthAdjust="spacingAndGlyphs">8</text>
<text x="45.9" y="46.6" text-anchor="end" font-size="16.2" textLength="7.3" lengthAdjust="spacingAndGlyphs">5</text>
<text class="d" x="62.6" y="43" font-size="16" textLength="64.6" lengthAdjust="spacingAndGlyphs">08/20/2002</text>
<text x="45.9" y="62.8" text-anchor="end" font-size="15.6" textLength="7.3" lengthAdjust="spacingAndGlyphs">8</text>
<text x="45.9" y="75" text-anchor="end" font-size="16.2" textLength="7.3" lengthAdjust="spacingAndGlyphs">5</text>
<text class="d" x="62.6" y="71.4" font-size="16" textLength="64.6" lengthAdjust="spacingAndGlyphs">08/12/2000</text>
<text x="45.9" y="91.2" text-anchor="end" font-size="15.6" textLength="7.3" lengthAdjust="spacingAndGlyphs">8</text>
<text x="45.9" y="103.4" text-anchor="end" font-size="16.2" textLength="7.3" lengthAdjust="spacingAndGlyphs">5</text>
<text class="d" x="62.6" y="99.8" font-size="16" textLength="64.6" lengthAdjust="spacingAndGlyphs">03/07/2000</text>
<text x="45.9" y="119.6" text-anchor="end" font-size="15.6" textLength="7.3" lengthAdjust="spacingAndGlyphs">8</text>
<text x="45.9" y="131.8" text-anchor="end" font-size="16.2" textLength="7.3" lengthAdjust="spacingAndGlyphs">5</text>
<text class="d" x="62.6" y="128.2" font-size="16" textLength="64.6" lengthAdjust="spacingAndGlyphs">09/18/1997</text>
<text x="45.9" y="148" text-anchor="end" font-size="15.6" textLength="7.3" lengthAdjust="spacingAndGlyphs">8</text>
<text x="45.9" y="160.2" text-anchor="end" font-size="16.2" textLength="7.3" lengthAdjust="spacingAndGlyphs">5</text>
<text class="d" x="62.6" y="156.6" font-size="16" textLength="64.6" lengthAdjust="spacingAndGlyphs">04/14/2001</text>
<text x="45.9" y="176.4" text-anchor="end" font-size="15.6" textLength="7.3" lengthAdjust="spacingAndGlyphs">8</text>
<text x="45.9" y="188.6" text-anchor="end" font-size="16.2" textLength="7.3" lengthAdjust="spacingAndGlyphs">5</text>
<text class="d" x="62.6" y="185" font-size="16" textLength="64.6" lengthAdjust="spacingAndGlyphs">08/03/2002</text>
<text x="45.9" y="204.8" text-anchor="end" font-size="15.6" textLength="7.3" lengthAdjust="spacingAndGlyphs">8</text>
<text x="45.9" y="217" text-anchor="end" font-size="16.2" textLength="7.3" lengthAdjust="spacingAndGlyphs">5</text>
<text class="d" x="62.6" y="213.4" font-size="16" textLength="64.6" lengthAdjust="spacingAndGlyphs">08/19/2002</text>
<text x="45.9" y="233.2" text-anchor="end" font-size="15.6" textLength="7.3" lengthAdjust="spacingAndGlyphs">8</text>
<text x="45.9" y="245.4" text-anchor="end" font-size="16.2" textLength="7.3" lengthAdjust="spacingAndGlyphs">5</text>
<text class="d" x="62.6" y="241.8" font-size="16" textLength="64.6" lengthAdjust="spacingAndGlyphs">05/23/2000</text>
<text x="45.9" y="261.6" text-anchor="end" font-size="15.6" textLength="7.3" lengthAdjust="spacingAndGlyphs">8</text>
<text x="45.9" y="273.8" text-anchor="end" font-size="16.2" textLength="7.3" lengthAdjust="spacingAndGlyphs">5</text>
<text class="d" x="62.6" y="270.2" font-size="16" textLength="64.6" lengthAdjust="spacingAndGlyphs">04/15/2002</text>
<text x="45.9" y="290" text-anchor="end" font-size="15.6" textLength="7.3" lengthAdjust="spacingAndGlyphs">8</text>
<text x="45.9" y="302.2" text-anchor="end" font-size="16.2" textLength="7.3" lengthAdjust="spacingAndGlyphs">5</text>
<text class="d" x="62.6" y="298.6" font-size="16" textLength="64.6" lengthAdjust="spacingAndGlyphs">08/19/2002</text>
<text x="45.9" y="318.4" text-anchor="end" font-size="15.6" textLength="7.3" lengthAdjust="spacingAndGlyphs">8</text>
<text x="45.9" y="330.6" text-anchor="end" font-size="16.2" textLength="7.3" lengthAdjust="spacingAndGlyphs">5</text>
<text class="d" x="62.6" y="327" font-size="16" textLength="64.6" lengthAdjust="spacingAndGlyphs">02/20/1999</text>
<text x="45.9" y="346.8" text-anchor="end" font-size="15.6" textLength="7.3" lengthAdjust="spacingAndGlyphs">8</text>
<text x="45.9" y="359" text-anchor="end" font-size="16.2" textLength="7.3" lengthAdjust="spacingAndGlyphs">5</text>
<text class="d" x="62.6" y="355.4" font-size="16" textLength="64.6" lengthAdjust="spacingAndGlyphs">03/07/2000</text>
<text x="45.9" y="375.2" text-anchor="end" font-size="15.6" textLength="7.3" lengthAdjust="spacingAndGlyphs">8</text>
<text x="45.9" y="387.4" text-anchor="end" font-size="16.2" textLength="7.3" lengthAdjust="spacingAndGlyphs">5</text>
<text class="d" x="62.6" y="383.8" font-size="16" textLength="64.6" lengthAdjust="spacingAndGlyphs">08/07/1999</text>
<text x="45.9" y="403.6" text-anchor="end" font-size="15.6" textLength="7.3" lengthAdjust="spacingAndGlyphs">8</text>
<text x="45.9" y="415.8" text-anchor="end" font-size="16.2" textLength="7.3" lengthAdjust="spacingAndGlyphs">5</text>
<text class="d" x="62.6" y="412.2" font-size="16" textLength="64.6" lengthAdjust="spacingAndGlyphs">09/27/1998</text>
<text x="45.9" y="432" text-anchor="end" font-size="15.6" textLength="7.3" lengthAdjust="spacingAndGlyphs">8</text>
<text x="45.9" y="444.2" text-anchor="end" font-size="16.2" textLength="7.3" lengthAdjust="spacingAndGlyphs">5</text>
<text class="d" x="62.6" y="440.6" font-size="16" textLength="64.6" lengthAdjust="spacingAndGlyphs">09/27/1998</text>
<text x="45.9" y="460.4" text-anchor="end" font-size="15.6" textLength="7.3" lengthAdjust="spacingAndGlyphs">8</text>
<text x="45.9" y="472.6" text-anchor="end" font-size="16.2" textLength="7.3" lengthAdjust="spacingAndGlyphs">5</text>
<text class="d" x="62.6" y="469" font-size="16" textLength="64.6" lengthAdjust="spacingAndGlyphs">09/29/1998</text>
<text x="45.9" y="488.8" text-anchor="end" font-size="15.6" textLength="7.3" lengthAdjust="spacingAndGlyphs">8</text>
<text x="45.9" y="501" text-anchor="end" font-size="16.2" textLength="7.3" lengthAdjust="spacingAndGlyphs">5</text>
<text class="d" x="62.6" y="497.4" font-size="16" textLength="64.6" lengthAdjust="spacingAndGlyphs">06/04/2000</text>
<text x="45.9" y="517.2" text-anchor="end" font-size="15.6" textLength="7.3" lengthAdjust="spacingAndGlyphs">8</text>
<text x="45.9" y="529.4" text-anchor="end" font-size="16.2" textLength="7.3" lengthAdjust="spacingAndGlyphs">5</text>
<text class="d" x="62.6" y="525.8" font-size="16" textLength="64.6" lengthAdjust="spacingAndGlyphs">08/18/2002</text>
<text x="45.9" y="545.6" text-anchor="end" font-size="15.6" textLength="7.3" lengthAdjust="spacingAndGlyphs">8</text>
<text x="45.9" y="557.8" text-anchor="end" font-size="16.2" textLength="7.3" lengthAdjust="spacingAndGlyphs">5</text>
<text class="d" x="62.6" y="554.2" font-size="16" textLength="64.6" lengthAdjust="spacingAndGlyphs">12/27/1999</text>
<text x="45.9" y="574" text-anchor="end" font-size="15.6" textLength="7.3" lengthAdjust="spacingAndGlyphs">8</text>
<text x="45.9" y="586.2" text-anchor="end" font-size="16.2" textLength="7.3" lengthAdjust="spacingAndGlyphs">5</text>
<text class="d" x="62.6" y="582.6" font-size="16" textLength="64.6" lengthAdjust="spacingAndGlyphs">04/14/2002</text>
<text x="45.9" y="602.4" text-anchor="end" font-size="15.6" textLength="7.3" lengthAdjust="spacingAndGlyphs">8</text>
<text x="45.9" y="614.6" text-anchor="end" font-size="16.2" textLength="7.3" lengthAdjust="spacingAndGlyphs">5</text>
<text class="d" x="62.6" y="611" font-size="16" textLength="64.6" lengthAdjust="spacingAndGlyphs">02/20/1999</text>
<text x="45.9" y="630.8" text-anchor="end" font-size="15.6" textLength="7.3" lengthAdjust="spacingAndGlyphs">8</text>
<text x="45.9" y="643" text-anchor="end" font-size="16.2" textLength="7.3" lengthAdjust="spacingAndGlyphs">5</text>
<text class="d" x="62.6" y="639.4" font-size="16" textLength="64.6" lengthAdjust="spacingAndGlyphs">05/01/2000</text>
<text x="50" y="667.7" text-anchor="middle" font-size="16" textLength="33.5" lengthAdjust="spacingAndGlyphs">00:00</text>
<text x="226.7" y="667.7" text-anchor="middle" font-size="16" textLength="33.5" lengthAdjust="spacingAndGlyphs">01:00</text>
<text x="403.3" y="667.7" text-anchor="middle" font-size="16" textLength="33.5" lengthAdjust="spacingAndGlyphs">02:00</text>
<text x="580" y="667.7" text-anchor="middle" font-size="16" textLength="33.5" lengthAdjust="spacingAndGlyphs">03:00</text>
<text x="277" y="689.5" font-size="19" textLength="76.5" lengthAdjust="spacingAndGlyphs">Time (UT)</text>
<text x="268.3" y="714.8" font-size="19.3" textLength="92" lengthAdjust="spacingAndGlyphs">(B) Gradual</text>
<path d="M226.3 754.5 226.3 740.1 226.3 740 229.7 735.7 234.7 734.3 236.7 733.3 246.7 735 256.7 736.7 265 738.3 270 735.7 273.3 735 280 736.7 286.7 739 296.7 743.3 306.7 746.7 311.7 748.3 311.7 748.3 311.7 754.5ZM223 782.9 223 773.6 226.3 770.1 229.7 765 230 765 235 766.7 243.3 767.7 253.3 770 263.3 771.7 273.3 773.3 286.7 775 300 775.7 310 776.7 320 777.7 323.3 778.3 323.3 782.9ZM224.7 811.3 224.7 798.5 228 793.3 233 791 239.7 790.3 240 791.7 253.3 793.3 270 793.3 286.7 795 300 797.7 310 800 320 802.3 326.7 805 326.7 805 326.7 811.3ZM228 839.7 228 830.7 230 828.3 235 823.3 240 820.7 246.7 820 253.3 820.7 263.3 822.7 273.3 824 283.3 826 293.3 827.3 303.3 829.3 313.3 830.7 320 828.3 325 829.3 330 831.7 331.7 834 331.7 834 331.7 839.7ZM199.7 868.1 199.7 862 203 859.7 208 857 213 857.6 218 853.5 223 850.8 228 851.7 233 853.3 238 851.7 241.7 850.7 245 850 250 852.7 256.7 855 263.3 856.7 270 857.3 273.3 855 276.7 855 281.7 857.3 286.7 859.3 291.7 860 293.3 863.3 293.3 868.1ZM204.7 896.4 204.7 891.3 208 887.1 214.7 885.8 221.3 882 228 878.3 233 876 238 875 240 876.7 246.7 880 253.3 882.7 260 885 266.7 887.3 272.7 890 272.7 890 272.7 896.4ZM209.7 924.8 209.7 916 211.3 914.8 214.7 915.3 218 913.6 221.3 910.2 224.7 905.8 228 905 233 905.7 238 906.7 246.7 907.7 253.3 908.3 261.7 906.7 266.7 907.7 273.3 910 280 911 286.7 909 293.3 910 300 912.3 306.7 914.3 313.3 915.7 320 916.7 326.7 917.7 335 919 335 924.8ZM173 953.2 173 949.2 174.7 947.5 178 944.2 181.3 941.5 184.7 939.2 188 937.5 191.3 935.8 194.7 937.5 199.7 940.8 203 942.5 208 942.2 213 942.6 218 941.1 223 942.2 228 944.3 228.5 944.6 228.5 953.2ZM228 981.6 228 975 231.3 966.7 234.7 963.3 239.7 961.7 240 962.3 246.7 963.3 253.3 965.7 260 969 266.7 972.3 270 975 270 981.6ZM235 1010 235 1002 236.3 1000.7 240 999.3 246.7 996 253.3 993.3 260 994 266.7 996.7 273.3 999.3 280 1000.7 286.7 1002.7 293.3 1000.7 300 1000 306.7 1001.7 311.7 1006 311.7 1006 311.7 1010ZM198 1038.4 198 1033.6 201.3 1029.6 206.3 1025.3 211.3 1023.6 216.3 1021.8 221.3 1019.4 224.7 1018.4 225 1019.3 230 1019.3 236.7 1021.7 243.3 1025 250 1026.7 256.7 1027.3 263.3 1028.3 270 1026.7 273.3 1025 278.3 1027.3 283.3 1030 285 1035 285 1038.4ZM226.3 1066.8 226.3 1061.7 226.3 1061.7 228.3 1055 233.3 1052.7 238.3 1051.7 243.3 1051.7 248.3 1050 253.3 1048.3 260 1049.3 266.7 1048.3 273.3 1047.3 280 1046 286.7 1046.7 293.3 1047.7 300 1048.3 306.7 1051.7 313.3 1054 320 1056.7 326 1060 326 1066.8ZM214.7 1095.2 214.7 1090.4 216.3 1087.1 219.7 1084.6 224.7 1083.4 229.7 1085 233 1081.7 236.3 1081 238.3 1083.3 243.3 1086.7 245 1089 245 1095.2ZM251.7 1123.6 251.7 1116.3 253.3 1115 256.7 1113.3 261.7 1111.7 270 1111 276.7 1112.3 283.3 1114.3 286.7 1116.7 286.7 1116.7 286.7 1123.6ZM218.7 1152 218.7 1143.7 219.7 1139.3 223 1133.9 226.3 1131.2 228.3 1133.3 233.3 1136.7 240 1137.7 246.7 1136.7 253.3 1137.7 258.3 1135 263.3 1135.7 268.3 1138.3 273.3 1140 280 1141.7 286.7 1138.3 291.7 1140 298.3 1141.7 303.3 1143.3 310 1144.3 315 1146.7 315 1152ZM214 1180.3 214 1170.6 214.7 1168.9 218 1167.1 221.3 1166.3 226.3 1166.1 231.3 1166 236.3 1166.7 240 1168.3 246.7 1166.7 253.3 1166 260 1166.7 266.7 1165 270 1164 275 1166 280 1170 285 1169.3 290 1171.7 295 1170.7 301.7 1174 301.7 1174 301.7 1180.3ZM231.5 1208.7 231.5 1198.8 232 1195 234.7 1193.3 239.7 1191.7 240 1194 246.7 1193.3 253.3 1192.7 260 1193.3 266.7 1191.7 273.3 1192.7 280 1193.3 286.7 1195 293.3 1196.7 300 1198.3 303.3 1201.6 303.3 1208.7ZM208 1237.1 208 1227.6 211.3 1226.1 214.7 1223.5 221.3 1223.1 226.3 1222.6 231.3 1225 236.3 1224 241.3 1221.7 246.7 1223.3 253.3 1225 260 1226.7 266.7 1228.3 273.3 1229.3 280 1230 286.7 1229.3 293.3 1230 300 1231.7 300 1237.1ZM170.7 1265.5 170.7 1260.8 173 1255.9 176.3 1251.9 181.3 1249.9 188 1248.6 193 1249.9 198 1249.2 204.7 1250.9 211.3 1251.7 218 1252.7 224.7 1254.5 229.7 1253.3 234.7 1251.7 239.7 1252.3 244.7 1253.3 245 1259 246.7 1260 246.7 1260 246.7 1265.5ZM207.3 1293.9 207.3 1285.8 207.3 1285.8 211.3 1283 216.3 1281.5 221.3 1281.9 226.3 1283.4 231.3 1282.3 236.3 1281 241.3 1281 246.7 1281.7 253.3 1282.3 260 1283.3 265 1282.3 268.3 1284.3 271.7 1285.7 273.3 1287.7 275 1291 275 1293.9ZM284 1293.9 284 1291 285 1285.7 293.3 1285 298.3 1285.7 300 1290 300 1293.9ZM235 1322.3 235 1314.6 236.3 1314.3 240 1312.3 246.7 1312.3 253.3 1312.3 258.3 1312.3 263.3 1311.7 268.3 1312.3 271.7 1315 275 1316.7 278.3 1318.3 278.3 1322.3ZM209.7 1350.7 209.7 1344.8 213 1343.8 216.3 1342.6 221.3 1341.2 224.7 1339.6 228 1337.3 231.3 1335 234.7 1334 239.7 1335 244.7 1336.7 245 1337.3 250 1339.3 256.7 1341.7 261.7 1341.7 266.7 1342.7 271.7 1344 273.3 1346.6 273.3 1350.7ZM201.3 1379.1 201.3 1373.4 203 1371.7 206.3 1369.9 211.3 1368.6 214.7 1367 219.7 1364.6 224.7 1362.9 229.7 1363.3 234.7 1365 239.7 1364 244.7 1365 250 1366.7 256.7 1366 261.7 1365 266.7 1362.7 273.3 1361.7 278.3 1360.7 283.3 1362.7 290 1364 296.7 1365 303.3 1366 310 1366.7 316.7 1370 316.7 1370 316.7 1379.1ZM223 1407.5 223 1399.6 224 1398.5 226.3 1393.4 229.7 1390 234.7 1388.3 235 1386.7 240 1388.3 246.7 1390 253.3 1390.7 260 1390 265 1391.7 270 1394 275 1392.7 280 1394 285 1396.7 290 1399.3 293.3 1400.7 297 1401.2 297 1407.5ZM182 1435.9 182 1428 183 1426.7 185.3 1425 188 1428.3 188 1435.9Z" fill="url(#hat)" stroke="none"/>
<path d="M226.3 754.5V740.1M311.7 754.5V748.3M223 782.9V773.6M323.3 782.9V778.3M224.7 811.3V798.5M326.7 811.3V805M228 839.7V830.7M331.7 839.7V834M199.7 868.1V862M293.3 868.1V863.3M204.7 896.4V891.3M272.7 896.4V890M209.7 924.8V916M335 924.8V919M173 953.2V949.2M228.5 953.2V944.6M228 981.6V975M270 981.6V975M235 1010V1002M311.7 1010V1006M198 1038.4V1033.6M285 1038.4V1035M226.3 1066.8V1061.7M326 1066.8V1060M214.7 1095.2V1090.4M245 1095.2V1089M251.7 1123.6V1116.3M286.7 1123.6V1116.7M218.7 1152V1143.7M315 1152V1146.7M214 1180.3V1170.6M301.7 1180.3V1174M231.5 1208.7V1198.8M303.3 1208.7V1201.6M208 1237.1V1227.6M300 1237.1V1231.7M170.7 1265.5V1260.8M246.7 1265.5V1260M207.3 1293.9V1285.8M275 1293.9V1291M284 1293.9V1291M300 1293.9V1290M235 1322.3V1314.6M278.3 1322.3V1318.3M209.7 1350.7V1344.8M273.3 1350.7V1346.6M201.3 1379.1V1373.4M316.7 1379.1V1370M223 1407.5V1399.6M297 1407.5V1401.2M182 1435.9V1428M188 1435.9V1428.3" fill="none" stroke="#000" stroke-width="1.2"/>
<path d="M50 749.5 62 750.2 70 750 75 748.5 80 747.5 85 747.3 90 745 95 739.5 100 738.5 106 738.8 112 739 120 741 128 741.7 141.3 743.3 154.7 745.7 164.7 747.7 174.7 749 188 749.3 208 749.7 221.3 749.3 224.7 746.7 226.3 740 229.7 735.7 234.7 734.3 236.7 733.3 246.7 735 256.7 736.7 265 738.3 270 735.7 273.3 735 280 736.7 286.7 739 296.7 743.3 306.7 746.7 311.7 748.3 316.7 750 323.3 749 330 748.3 336.7 750 346.7 751 353.3 750.7 370 750.7 386.7 750.7 403.3 751 420 751 433.3 750.7 460 750.7 470 749.7 480 750.7 500 750.7 533.3 750.7 580 750.3M49.7 779.7 64.7 780.4 81.3 779.7 98 779.7 114.7 780.4 148 779.7 181.3 779.7 198 779.7 214.7 779.1 219.7 778.2 223 773.6 226.3 770.1 229.7 765 230 765 235 766.7 243.3 767.7 253.3 770 263.3 771.7 273.3 773.3 286.7 775 300 775.7 310 776.7 320 777.7 323.3 778.3 330 778.3 343.3 779 353.3 779.3 366.7 778.3 373.3 777.7 380 776.7 386.7 775.7 396.7 776 403.3 777.7 410 778.3 420 777.7 433.3 779 460 780 483.3 779.3 500 779.3 533.3 779.3 580 779.3M49.7 806.4 68 807.4 81.3 807.1 98 807.4 114.7 807.1 148 807.4 181.3 807.4 214.7 806.8 221.3 805.4 224.7 798.5 228 793.3 233 791 239.7 790.3 240 791.7 253.3 793.3 270 793.3 286.7 795 300 797.7 310 800 320 802.3 326.7 805 333.3 805.7 346.7 806 360 805 366.7 806 373.3 805 386.7 806 403.3 806 420 805.7 433.3 806.7 485 806.7M496.7 806.7 533.3 806.7 580 806.7M49.7 837.6 81.3 837.6 114.7 837.6 148 837.6 181.3 837.6 201.3 837.6 204.7 835.6 208 832.1 211.3 832.8 218 834 221.3 834.5 224.7 831.9 228 830.7 230 828.3 235 823.3 240 820.7 246.7 820 253.3 820.7 263.3 822.7 273.3 824 283.3 826 293.3 827.3 303.3 829.3 313.3 830.7 320 828.3 325 829.3 330 831.7 331.7 834 336.7 835 341.7 830.7 345 828.3 348.3 831.7 353.3 834 360 835 366.7 834 371.7 829.3 375 828.3 380 830.7 386.7 830.7 391.7 828.3 396.7 831.7 403.3 835 411.7 836 420 836 433.3 836.7 436.7 835.7 440 836.7 466.7 836.7 500 836.7 533.3 836.7 580 836.7M49.7 863.1 53 860.4 56.3 856.4 59.7 853.7 64.7 854.4 71.3 857.1 78 859.7 84.7 862.1 98 863.7 114.7 863.7 131.3 863.7 148 863.7 161.3 863.1 168 861.4 173 857.1 176.3 853.1 179.7 855.4 184.7 857.1 191.3 859.7 196.3 861.1 199.7 862.1 203 859.7 208 857 213 857.6 218 853.5 223 850.8 228 851.7 233 853.3 238 851.7 241.7 850.7 245 850 250 852.7 256.7 855 263.3 856.7 270 857.3 273.3 855 276.7 855 281.7 857.3 286.7 859.3 291.7 860 293.3 863.3 300 863.3 313.3 862.7 326.7 863.3 340 863.3 345 864M365 859.3 370 856.7 375 855 380 857.3 386.7 859.3 393.3 860.7 400 859.3 406.7 858.3 413.3 860 420 860.7 433.3 863.3 466.7 864 493.3 864 496.7 861.7 500 859.3 505 859.3 510 860.7 520 862.7 533.3 864 580 864M49.7 892.3 58 892 68 893 74.7 893.3M105.3 879.6 108 890.6 114.7 892 131.3 893 148 892.3 161.3 891.3 164.7 887.3 168 885.3 173 886.3 181.3 889.6 191.3 891.3 201.3 892.3 204.7 891.3 208 887.1 214.7 885.8 221.3 882 228 878.3 233 876 238 875 240 876.7 246.7 880 253.3 882.7 260 885 266.7 887.3 272.7 890 278.3 891 285 889.3 290 886 295 888.3 303.3 890.7 313.3 891.7 326.7 892.7 336.7 893.3 343.3 892.7 350 890 355 889 360 890 370 891.7 380 892.7 388.3 891.7 393.3 889.3 398.3 890.7 406.7 891.7 420 892.7 433.3 893.3 466.7 892.7 500 892.7 533.3 892.7 566.7 892.7 580 891.7M49.7 919.6 61.3 918.9 74.7 919.6 88 918.3 101.3 918.9 114.7 918.3 128 918.9 141.3 918.3 154.7 918.9 168 918.3 181.3 918.9 194.7 918.3 204.7 918.3 208 917.2 211.3 914.8 214.7 915.3 218 913.6 221.3 910.2 224.7 905.8 228 905 233 905.7 238 906.7 246.7 907.7 253.3 908.3 261.7 906.7 266.7 907.7 273.3 910 280 911 286.7 909 293.3 910 300 912.3 306.7 914.3 313.3 915.7 320 916.7 326.7 917.7 335 919 340 920 346.7 916.7 351.7 911.7 353.3 911 360 913.3 366.7 915.7 373.3 918.3 380 920 393.3 921 406.7 921 420 921 433.3 920.7 451.7 919.3 460 920.7 483.3 920 493.3 920.7 533.3 921 580 920.3M49.7 952.5 64.7 951.8 81.3 952.5 98 951.8 111.3 951.5 114.7 950.2 119.7 947.5 124.7 948.2 131.3 950.8 148 951.5 164.7 951.5 171.3 950.8 174.7 947.5 178 944.2 181.3 941.5 184.7 939.2 188 937.5 191.3 935.8 194.7 937.5 199.7 940.8 203 942.5 208 942.2 213 942.6 218 941.1 223 942.2 228 944.3 233 946.7 233.3 946.7 238.3 947.7 245 948.3 253.3 947.7 260 948.3 265 947.7 270 944.3 273.3 943.3 276.7 946.7 280 947.7 283.3 945.7 286.7 948.3 293.3 949.3 306.7 950 320 950 353.3 950 386.7 950 420 950 433.3 950.7 580 951M49.7 980.1 81.3 980.7 114.7 980.1 141.3 980.1 148 979.4 181.3 980.1 214.7 979.7 224.7 978.7 228 975 231.3 966.7 234.7 963.3 239.7 961.7 240 962.3 246.7 963.3 253.3 965.7 260 969 266.7 972.3 270 975 276.7 977.7 283.3 976.7 290 975.7 296.7 974.3 303.3 975 310 976.7 316.7 978.3 326.7 979 353.3 979 386.7 979 420 979 433.3 979.3 500 979.7 506 980.3M515 979.7 580 979.7M49.7 1009 81.3 1009 114.7 1009 148 1009 181.3 1009 214.7 1008.7 224.7 1008.1 228 1006 233 1004 236.3 1000.7 240 999.3 246.7 996 253.3 993.3 260 994 266.7 996.7 273.3 999.3 280 1000.7 286.7 1002.7 293.3 1000.7 300 1000 306.7 1001.7 311.7 1006 316.7 1006.7 323.3 1006.7 331.7 1006.7M343.3 1006.7 353.3 1006.7 370 1006.7 386.7 1006.7 403.3 1006.7 420 1006 426.7 1007.3 450 1008 500 1008.3 580 1008.3M49.7 1037 81.3 1037 114.7 1037 148 1037 181.3 1037 194.7 1037 198 1033.6 201.3 1029.6 206.3 1025.3 211.3 1023.6 216.3 1021.8 221.3 1019.4 224.7 1018.4 225 1019.3 230 1019.3 236.7 1021.7 243.3 1025 250 1026.7 256.7 1027.3 263.3 1028.3 270 1026.7 273.3 1025 278.3 1027.3 283.3 1030 285 1035 290 1035 300 1034.3 306.7 1033.3 313.3 1034 320 1032.7 326.7 1030.7 333.3 1031.7 340 1032.7 350 1034 356.7 1032.7 363.3 1028.3 370 1025 375 1027.3 380 1030.7 386.7 1032.7 396.7 1034 406.7 1035 420 1035 433.3 1035.7 450 1035 455 1033.3 460 1035 465 1032.7 470 1031.7 476.7 1033.3 486.7 1035 500 1036 533.3 1036.7 580 1036.7M48 1052.2 54.7 1052.2 64.7 1051.2 71.3 1052.2 78 1054.5 84.7 1052.2 91.3 1055.5 96.3 1053.2 99.7 1060.5 103 1055.5 108 1057.8 111.3 1055.5 116.3 1050.5 121.3 1048.8 128 1047.2 134.7 1048.8 148 1049.8 164.7 1048.8 181.3 1049.5 186.3 1051.2 189.7 1055.5 193 1052.2 198 1050.5 204.7 1049.5 211.3 1048.7 218 1050.2 221.3 1053.5 224 1059.4 226.3 1061.7 228.3 1055 233.3 1052.7 238.3 1051.7 243.3 1051.7 248.3 1050 253.3 1048.3 260 1049.3 266.7 1048.3 273.3 1047.3 280 1046 286.7 1046.7 293.3 1047.7 300 1048.3 306.7 1051.7 313.3 1054 320 1056.7 326 1060 330 1060.7 340 1061.7 353.3 1061.7 366.7 1061.7 380 1061 393.3 1060 400 1056 403.3 1054 406.7 1058.3 411.7 1060 416.7 1059.3 420 1060 421.7 1058.3 425 1057.3 428.3 1061.7 433.3 1061.7 440 1060 443.3 1057.3 446.7 1056.7 450 1059.3 453.3 1061.7 460 1061.7 466.7 1060.7 473.3 1061.7 480 1059.3 483.3 1058.3 486.7 1059.3 491.7 1056.7 495 1055 500 1056 505 1059.3 510 1060 515 1056.7 518.3 1054 521.7 1058.3 526.7 1060 533.3 1060 540 1061.7 546.7 1061.7 553.3 1059.3 556.7 1055 559.3 1053.3 561.7 1060 565 1059.3 570 1060 575 1060 580 1061.7M49.7 1091.8 64.7 1091.8 78 1090.8 81.3 1087.5 84.7 1083.1 89.7 1080.8 96.3 1079.8 103 1080.8 108 1082.5 114.7 1085.1 119.7 1084.1 124.7 1084.1 131.3 1085.8 138 1088.5 144.7 1090.8 154.7 1091.8 168 1091.8 181.3 1091.8 188 1091.1 191.3 1089.8 194.7 1091.8 208 1091.7 214.7 1090.5 216.3 1087.1 219.7 1084.6 224.7 1083.4 229.7 1085 233 1081.7 236.3 1081 238.3 1083.3 243.3 1086.7 245 1089 250 1090 260 1091 273.3 1091.7 286.7 1091 300 1091 313.3 1090.7 326.7 1090.7 336.7 1090 343.3 1088.3 348.3 1086.7 351.7 1088.3 356.7 1090 366.7 1091 380 1091 393.3 1091.7 406.7 1091.7 420 1091 426.7 1091 431.7 1088.3 435 1089 441.7 1090 450 1087.7 455 1088.3 458.3 1085.7 461.7 1080 466.7 1079 473.3 1081 480 1085 486.7 1089 493.3 1088.3 503.3 1089 513.3 1091 526.7 1091.7 540 1092.3 553.3 1091.7 566.7 1091.7 580 1091.7M49.7 1118.7 81.3 1119.3 114.7 1119.3 148 1118.7 164.7 1118.7 174.7 1118.7 179.7 1116.7 183 1114.3 188 1113.3 194.7 1115.3 201.3 1116.7 211.3 1117.4 221.3 1118 231.3 1117.7 241.3 1118.3 244.7 1117.3 245 1116.7 250 1117.7 253.3 1115 256.7 1113.3 261.7 1111.7 270 1111 276.7 1112.3 283.3 1114.3 286.7 1116.7 293.3 1117.7 306.7 1117.7 320 1117.3 336.7 1117.7 353.3 1117.7 363.3 1116.7 366.7 1115 370 1116.7 376.7 1118.3 393.3 1118.3 406.7 1118.3 420 1117.7 426.7 1118.3 433.3 1119 466.7 1119 500 1119 533.3 1119 566.7 1119 573.3 1117.7 580 1116.7M49.7 1149.4 64.7 1149.4 81.3 1148.7 98 1149.4 114.7 1148.7 131.3 1149.4 148 1148.7 164.7 1149.4 181.3 1149.4 198 1149.4 214.7 1148.2 218 1146.8 219.7 1139.3 223 1133.9 226.3 1131.2 228.3 1133.3 233.3 1136.7 240 1137.7 246.7 1136.7 253.3 1137.7 258.3 1135 263.3 1135.7 268.3 1138.3 273.3 1140 280 1141.7 286.7 1138.3 291.7 1140 298.3 1141.7 303.3 1143.3 310 1144.3 315 1146.7 320 1148.3 326.7 1149 340 1149.3 353.3 1149.3 386.7 1149.3 420 1149.3 466.7 1149.7 480 1149 485 1147 490 1148.3 496.7 1148.3 506.7 1149 520 1149.3 533.3 1148.3 536.7 1147.7 543.3 1148.3 553.3 1149.3 580 1149.7M49.7 1178.2 81.3 1178.2 114.7 1178.2 148 1178.2 174.7 1178.2 178 1177.6 181.3 1174.9 184.7 1174.2 191.3 1174.9 196.3 1176.9 199.7 1175.9 203 1176.9 206.3 1175.8 209.7 1174.7 213 1173.3 214.7 1168.9 218 1167.1 221.3 1166.3 226.3 1166.1 231.3 1166 236.3 1166.7 240 1168.3 246.7 1166.7 253.3 1166 260 1166.7 266.7 1165 270 1164 275 1166 280 1170 285 1169.3 290 1171.7 295 1170.7 301.7 1174 306.7 1175 313.3 1173.3 318.3 1171.7 323.3 1174 330 1176 340 1176.7 353.3 1176 355 1174.7 358.3 1176.7 370 1177.3 386.7 1177.3 400 1176.7 403.3 1176 406.7 1177.3 420 1177.3 433.3 1177.3 450 1176.7 455 1177.3 466.7 1177.3 493.3 1177.3 496.7 1178M515 1177.3 533.3 1176.7 550 1177.3 566.7 1177.3 573.3 1176 578.3 1173.3 580 1174M49.7 1207 81.3 1207 114.7 1207 148 1207 181.3 1207 201.3 1206.3 206.3 1202.9 209.7 1200.2 213 1200.9 218 1201.8 223 1200.7 228 1203.3 230.7 1205 232 1195 234.7 1193.3 239.7 1191.7 240 1194 246.7 1193.3 253.3 1192.7 260 1193.3 266.7 1191.7 273.3 1192.7 280 1193.3 286.7 1195 293.3 1196.7 300 1198.3 303.3 1201.7 308.3 1204 315 1206.7 326.7 1206.7 353.3 1206.7 386.7 1206.7 420 1206.7 433.3 1206.7 580 1206.7M48 1232.5 58 1233.2 61.3 1233.2M86.3 1227.5 88 1219.2 89.7 1220.9 91.3 1217.5 93 1220.9 96.3 1234.2 98 1234.2 114.7 1234.2 131.3 1233.5 148 1233.2 164.7 1232.5 174.7 1231.9 181.3 1230.9 184.7 1226.5 188 1225.2 193 1227.5 198 1228.5 204.7 1229.2 208 1227.6 211.3 1226.1 214.7 1223.5 221.3 1223.1 226.3 1222.6 231.3 1225 236.3 1224 241.3 1221.7 246.7 1223.3 253.3 1225 260 1226.7 266.7 1228.3 273.3 1229.3 280 1230 286.7 1229.3 293.3 1230 300 1231.7 306.7 1231.7 320 1232.7 336.7 1233.3 353.3 1233.3 370 1233.3 386.7 1234 420 1234 426.7 1233.3 430 1231.7 433.3 1231.7 436.7 1233.3 443.3 1234 466.7 1234.3 500 1234.3 533.3 1234.3 580 1234.3M49.7 1263.2 81.3 1263.2 114.7 1263.2 148 1262.6 168 1262.6 170.7 1260.9 173 1255.9 176.3 1251.9 181.3 1249.9 188 1248.6 193 1249.9 198 1249.2 204.7 1250.9 211.3 1251.7 218 1252.7 224.7 1254.5 229.7 1253.3 234.7 1251.7 239.7 1252.3 244.7 1253.3 245 1259 246.7 1260 251.7 1258.3 256.7 1255.7 261.7 1253.3 266.7 1255 273.3 1257.7 280 1259 286.7 1260 293.3 1259 300 1257.7 306.7 1259 313.3 1261 320 1261.7 333.3 1261.7 346.7 1261.7 351.7 1260 356.7 1257.7M363.3 1258.3 366.7 1260 373.3 1261 380 1258.3 386.7 1255.7 393.3 1256.7 400 1258.3 406.7 1260 420 1261 426.7 1260 440 1260.7 450 1261.7 463.3 1262.3 466.7 1261 470 1262.3 483.3 1262.3 500 1262.7 520 1262.7 546.7 1262.7M560 1243.3 566.7 1241 571.7 1250 574 1246.7 576.7 1251 579.3 1248.3 580 1255M49.7 1289.9 81.3 1289.9 114.7 1289.9 148 1289.9 161.3 1289.2 164.7 1287.6 171.3 1288.6 178 1289.2 184.7 1287.6 191.3 1288.6 198 1287.6 204.7 1287.6 207.3 1285.8 211.3 1283 216.3 1281.5 221.3 1281.9 226.3 1283.4 231.3 1282.3 236.3 1281 241.3 1281 246.7 1281.7 253.3 1282.3 260 1283.3 265 1282.3 268.3 1284.3 271.7 1285.7 273.3 1287.7 275 1291M284 1291 285 1285.7 293.3 1285 298.3 1285.7 300 1290M310 1288.3 320 1288.3 336.7 1288.3 353.3 1288.3 363.3 1287.7 376.7 1288.3 393.3 1288.3 401.7 1287.7 405 1283.3 408.3 1282.3 413.3 1284.3 420 1285 423.3 1286.7 430 1287.7 440 1288.3 460 1289 483.3 1289 500 1289 526.7 1289 533.3 1289 536.7 1286.7 540 1285.7 546.7 1286.7 553.3 1286.7 558.3 1285.7 563.3 1287.7 573.3 1289 580 1289M49.7 1319.1 64.7 1319.1 81.3 1318.1 98 1318.1 108 1316.4 111.3 1313.7 114.7 1315.7 119.7 1317.1 124.7 1316.4 131.3 1315.4 138 1314.7 144.7 1313.7 151.3 1314.7 158 1316.4 168 1318.1 181.3 1319.1 194.7 1318.1 204.7 1319.1 214.7 1319.1 221.3 1317.1 228 1317.7 233 1315 236.3 1314.3 240 1312.3 246.7 1312.3 253.3 1312.3 258.3 1312.3 263.3 1311.7 268.3 1312.3 271.7 1315 275 1316.7 278.3 1318.3 286.7 1318.3 296.7 1316.7 306.7 1316.7 320 1317.3 330 1317.3 340 1317.7 353.3 1318.3 363.3 1319M373.3 1318.3 376.7 1316.7 381.7 1315 386.7 1315 393.3 1314.3 400 1315 406.7 1315.7 413.3 1315 420 1315 426.7 1316.7 433.3 1317.7 440 1316.7 450 1315 456.7 1313.3 466.7 1311.7 473.3 1311 480 1311.7 486.7 1313.3 493.3 1315 500 1315.7 510 1316.7 520 1316.7 523.3 1313.3 528.3 1311.7 533.3 1313.3 536.7 1315 540 1312.3 543.3 1310 548.3 1311.7 553.3 1315 560 1317.3 566.7 1318.3 580 1318.3M49.7 1349.1 81.3 1348.5 114.7 1348.5 128 1347.8 148 1348.5 181.3 1348.5 201.3 1348.5 206.3 1346.7 209.7 1344.8 213 1343.8 216.3 1342.6 221.3 1341.2 224.7 1339.6 228 1337.3 231.3 1335 234.7 1334 239.7 1335 244.7 1336.7 245 1337.3 250 1339.3 256.7 1341.7 261.7 1341.7 266.7 1342.7 271.7 1344 273.3 1346.7 278.3 1346.7 286.7 1346 296.7 1346 303.3 1345 306.7 1343.3 310 1345 320 1346 330 1345 340 1345 353.3 1345.7 366.7 1346 380 1346 385 1344 388.3 1341.7 393.3 1340.7 398.3 1342.7 403.3 1346 411.7 1347.3 420 1347.3 423.3 1346.7 426.7 1345 431.7 1342.7 436.7 1345 443.3 1347.3 453.3 1348.3 500 1348.3 533.3 1348.3 566.7 1348.3 573.3 1346.7 580 1346M49.7 1376.7 81.3 1376.7 114.7 1376 148 1376.7 181.3 1376.7 194.7 1376.7 199.7 1375 203 1371.7 206.3 1369.9 211.3 1368.6 214.7 1367 219.7 1364.6 224.7 1362.9 229.7 1363.3 234.7 1365 239.7 1364 244.7 1365 250 1366.7 256.7 1366 261.7 1365 266.7 1362.7 273.3 1361.7 278.3 1360.7 283.3 1362.7 290 1364 296.7 1365 303.3 1366 310 1366.7 316.7 1370 323.3 1372.7 330 1370.7 336.7 1369.3 343.3 1369.3 350 1370 356.7 1371.7 366.7 1371.7 376.7 1372.7 383.3 1374 393.3 1375 406.7 1375 420 1375 433.3 1376 466.7 1375.7 500 1376 533.3 1376 580 1376M49.7 1402.7 81.3 1402.7 98 1402 114.7 1402.7 128 1401.7 133 1400.3 138 1401.7 148 1402 154.7 1401 161.3 1401.7 174.7 1402 188 1401.7 201.3 1402 214.7 1401.6 221.3 1401.3 224 1398.5 226.3 1393.4 229.7 1390 234.7 1388.3 235 1386.7 240 1388.3 246.7 1390 253.3 1390.7 260 1390 265 1391.7 270 1394 275 1392.7 280 1394 285 1396.7 290 1399.3 293.3 1400.7 300 1401.7 306.7 1401 313.3 1401.7 326.7 1402.7 340 1402.7 353.3 1402.7 366.7 1402.7 371.7 1400.7 375 1402.7 386.7 1402.7 420 1402.7 433.3 1402.7 460 1402.7 463.3 1398.3 466.7 1392.7 471.7 1390.7 478.3 1391.7 483.3 1396.7 488.3 1400 493.3 1401.7 506.7 1402.7 533.3 1402.7 566.7 1402.7 580 1401.7M49.7 1422.3 53 1425 56.3 1427.7 61.3 1429 66.3 1430 69.7 1429 74.7 1427.7 78 1425.7 81.3 1427.7 86.3 1431 91.3 1432.3 98 1433.3 114.7 1433.3 131.3 1432.7 148 1433.3 164.7 1432.7 174.7 1432.3 179.7 1431 183 1426.7 185.3 1425 188 1428.3 191.3 1431 194.7 1432.3 201.3 1431.7 206.3 1429 211.3 1426.7 214.7 1428.3 218 1430 221.3 1431 226.3 1432.3 231.3 1432.3 238 1431 244.7 1427.7 245 1427.7 250 1429 255 1431 260 1431.7 263.3 1429 266.7 1430 271.7 1431.7 276.7 1430 279.3 1427.7 283.3 1431 288.3 1431.7 293.3 1431 297.3 1429 301.7 1430 306.7 1431.7 310 1431 313.3 1431.7M320 1431.7 336.7 1431.7 353.3 1432.3 370 1432.3 386.7 1432.7 403.3 1432.7 420 1433 433.3 1433.3 500 1433.3 580 1433.3" fill="none" stroke="#000" stroke-width="1.5" stroke-linejoin="round"/>
<line x1="226" y1="726.1" x2="226" y2="1435.8" stroke="#000" stroke-width="1.5" stroke-dasharray="9,4"/>
<path d="M229 726.1V754.5M230.6 754.5V782.9M232 782.9V811.3M234.5 811.3V839.7M235 839.7V868.1M237 868V896.4M237.3 896.4V924.8M237.7 924.8V953.2M238.9 953.2V981.6M240.8 981.6V1010M243.6 1010V1038.4M243.6 1038.4V1066.8M246.5 1066.8V1095.2M249.4 1095.2V1123.6M249.4 1123.6V1152M255.1 1152V1180.3M261 1180.3V1208.7M264.4 1208.7V1237.1M268.3 1237.1V1265.5M269.9 1265.5V1293.9M276 1293.9V1322.3M282 1322.3V1350.7M282.2 1350.7V1379.1M287.9 1379.1V1407.5M308.6 1407.5V1435.9" stroke="#cc3a48" stroke-width="1.3" fill="none"/>
<path d="M50 730.8h5M580 730.8h-5M50 735.6h5M580 735.6h-5M50 740.3h10.5M580 740.3h-10.5M50 745h5M580 745h-5M50 749.8h5M580 749.8h-5M79.4 754.5v-2.2M79.4 726.1v2.6M108.9 754.5v-2.2M108.9 726.1v2.6M138.3 754.5v-2.2M138.3 726.1v2.6M167.8 754.5v-2.2M167.8 726.1v2.6M197.2 754.5v-2.2M197.2 726.1v2.6M226.7 754.5v-4M226.7 726.1v5M256.1 754.5v-2.2M256.1 726.1v2.6M285.6 754.5v-2.2M285.6 726.1v2.6M315 754.5v-2.2M315 726.1v2.6M344.4 754.5v-2.2M344.4 726.1v2.6M373.9 754.5v-2.2M373.9 726.1v2.6M403.3 754.5v-4M403.3 726.1v5M432.8 754.5v-2.2M432.8 726.1v2.6M462.2 754.5v-2.2M462.2 726.1v2.6M491.7 754.5v-2.2M491.7 726.1v2.6M521.1 754.5v-2.2M521.1 726.1v2.6M550.6 754.5v-2.2M550.6 726.1v2.6M50 759.2h5M580 759.2h-5M50 764h5M580 764h-5M50 768.7h10.5M580 768.7h-10.5M50 773.4h5M580 773.4h-5M50 778.1h5M580 778.1h-5M79.4 782.9v-2.2M79.4 754.5v2.6M108.9 782.9v-2.2M108.9 754.5v2.6M138.3 782.9v-2.2M138.3 754.5v2.6M167.8 782.9v-2.2M167.8 754.5v2.6M197.2 782.9v-2.2M197.2 754.5v2.6M226.7 782.9v-4M226.7 754.5v5M256.1 782.9v-2.2M256.1 754.5v2.6M285.6 782.9v-2.2M285.6 754.5v2.6M315 782.9v-2.2M315 754.5v2.6M344.4 782.9v-2.2M344.4 754.5v2.6M373.9 782.9v-2.2M373.9 754.5v2.6M403.3 782.9v-4M403.3 754.5v5M432.8 782.9v-2.2M432.8 754.5v2.6M462.2 782.9v-2.2M462.2 754.5v2.6M491.7 782.9v-2.2M491.7 754.5v2.6M521.1 782.9v-2.2M521.1 754.5v2.6M550.6 782.9v-2.2M550.6 754.5v2.6M50 787.6h5M580 787.6h-5M50 792.3h5M580 792.3h-5M50 797.1h10.5M580 797.1h-10.5M50 801.8h5M580 801.8h-5M50 806.5h5M580 806.5h-5M79.4 811.3v-2.2M79.4 782.9v2.6M108.9 811.3v-2.2M108.9 782.9v2.6M138.3 811.3v-2.2M138.3 782.9v2.6M167.8 811.3v-2.2M167.8 782.9v2.6M197.2 811.3v-2.2M197.2 782.9v2.6M226.7 811.3v-4M226.7 782.9v5M256.1 811.3v-2.2M256.1 782.9v2.6M285.6 811.3v-2.2M285.6 782.9v2.6M315 811.3v-2.2M315 782.9v2.6M344.4 811.3v-2.2M344.4 782.9v2.6M373.9 811.3v-2.2M373.9 782.9v2.6M403.3 811.3v-4M403.3 782.9v5M432.8 811.3v-2.2M432.8 782.9v2.6M462.2 811.3v-2.2M462.2 782.9v2.6M491.7 811.3v-2.2M491.7 782.9v2.6M521.1 811.3v-2.2M521.1 782.9v2.6M550.6 811.3v-2.2M550.6 782.9v2.6M50 816h5M580 816h-5M50 820.7h5M580 820.7h-5M50 825.5h10.5M580 825.5h-10.5M50 830.2h5M580 830.2h-5M50 834.9h5M580 834.9h-5M79.4 839.7v-2.2M79.4 811.3v2.6M108.9 839.7v-2.2M108.9 811.3v2.6M138.3 839.7v-2.2M138.3 811.3v2.6M167.8 839.7v-2.2M167.8 811.3v2.6M197.2 839.7v-2.2M197.2 811.3v2.6M226.7 839.7v-4M226.7 811.3v5M256.1 839.7v-2.2M256.1 811.3v2.6M285.6 839.7v-2.2M285.6 811.3v2.6M315 839.7v-2.2M315 811.3v2.6M344.4 839.7v-2.2M344.4 811.3v2.6M373.9 839.7v-2.2M373.9 811.3v2.6M403.3 839.7v-4M403.3 811.3v5M432.8 839.7v-2.2M432.8 811.3v2.6M462.2 839.7v-2.2M462.2 811.3v2.6M491.7 839.7v-2.2M491.7 811.3v2.6M521.1 839.7v-2.2M521.1 811.3v2.6M550.6 839.7v-2.2M550.6 811.3v2.6M50 844.4h5M580 844.4h-5M50 849.1h5M580 849.1h-5M50 853.9h10.5M580 853.9h-10.5M50 858.6h5M580 858.6h-5M50 863.3h5M580 863.3h-5M79.4 868.1v-2.2M79.4 839.7v2.6M108.9 868.1v-2.2M108.9 839.7v2.6M138.3 868.1v-2.2M138.3 839.7v2.6M167.8 868.1v-2.2M167.8 839.7v2.6M197.2 868.1v-2.2M197.2 839.7v2.6M226.7 868.1v-4M226.7 839.7v5M256.1 868.1v-2.2M256.1 839.7v2.6M285.6 868.1v-2.2M285.6 839.7v2.6M315 868.1v-2.2M315 839.7v2.6M344.4 868.1v-2.2M344.4 839.7v2.6M373.9 868.1v-2.2M373.9 839.7v2.6M403.3 868.1v-4M403.3 839.7v5M432.8 868.1v-2.2M432.8 839.7v2.6M462.2 868.1v-2.2M462.2 839.7v2.6M491.7 868.1v-2.2M491.7 839.7v2.6M521.1 868.1v-2.2M521.1 839.7v2.6M550.6 868.1v-2.2M550.6 839.7v2.6M50 872.8h5M580 872.8h-5M50 877.5h5M580 877.5h-5M50 882.2h10.5M580 882.2h-10.5M50 887h5M580 887h-5M50 891.7h5M580 891.7h-5M79.4 896.4v-2.2M79.4 868v2.6M108.9 896.4v-2.2M108.9 868v2.6M138.3 896.4v-2.2M138.3 868v2.6M167.8 896.4v-2.2M167.8 868v2.6M197.2 896.4v-2.2M197.2 868v2.6M226.7 896.4v-4M226.7 868v5M256.1 896.4v-2.2M256.1 868v2.6M285.6 896.4v-2.2M285.6 868v2.6M315 896.4v-2.2M315 868v2.6M344.4 896.4v-2.2M344.4 868v2.6M373.9 896.4v-2.2M373.9 868v2.6M403.3 896.4v-4M403.3 868v5M432.8 896.4v-2.2M432.8 868v2.6M462.2 896.4v-2.2M462.2 868v2.6M491.7 896.4v-2.2M491.7 868v2.6M521.1 896.4v-2.2M521.1 868v2.6M550.6 896.4v-2.2M550.6 868v2.6M50 901.2h5M580 901.2h-5M50 905.9h5M580 905.9h-5M50 910.6h10.5M580 910.6h-10.5M50 915.4h5M580 915.4h-5M50 920.1h5M580 920.1h-5M79.4 924.8v-2.2M79.4 896.4v2.6M108.9 924.8v-2.2M108.9 896.4v2.6M138.3 924.8v-2.2M138.3 896.4v2.6M167.8 924.8v-2.2M167.8 896.4v2.6M197.2 924.8v-2.2M197.2 896.4v2.6M226.7 924.8v-4M226.7 896.4v5M256.1 924.8v-2.2M256.1 896.4v2.6M285.6 924.8v-2.2M285.6 896.4v2.6M315 924.8v-2.2M315 896.4v2.6M344.4 924.8v-2.2M344.4 896.4v2.6M373.9 924.8v-2.2M373.9 896.4v2.6M403.3 924.8v-4M403.3 896.4v5M432.8 924.8v-2.2M432.8 896.4v2.6M462.2 924.8v-2.2M462.2 896.4v2.6M491.7 924.8v-2.2M491.7 896.4v2.6M521.1 924.8v-2.2M521.1 896.4v2.6M550.6 924.8v-2.2M550.6 896.4v2.6M50 929.6h5M580 929.6h-5M50 934.3h5M580 934.3h-5M50 939h10.5M580 939h-10.5M50 943.8h5M580 943.8h-5M50 948.5h5M580 948.5h-5M79.4 953.2v-2.2M79.4 924.8v2.6M108.9 953.2v-2.2M108.9 924.8v2.6M138.3 953.2v-2.2M138.3 924.8v2.6M167.8 953.2v-2.2M167.8 924.8v2.6M197.2 953.2v-2.2M197.2 924.8v2.6M226.7 953.2v-4M226.7 924.8v5M256.1 953.2v-2.2M256.1 924.8v2.6M285.6 953.2v-2.2M285.6 924.8v2.6M315 953.2v-2.2M315 924.8v2.6M344.4 953.2v-2.2M344.4 924.8v2.6M373.9 953.2v-2.2M373.9 924.8v2.6M403.3 953.2v-4M403.3 924.8v5M432.8 953.2v-2.2M432.8 924.8v2.6M462.2 953.2v-2.2M462.2 924.8v2.6M491.7 953.2v-2.2M491.7 924.8v2.6M521.1 953.2v-2.2M521.1 924.8v2.6M550.6 953.2v-2.2M550.6 924.8v2.6M50 958h5M580 958h-5M50 962.7h5M580 962.7h-5M50 967.4h10.5M580 967.4h-10.5M50 972.1h5M580 972.1h-5M50 976.9h5M580 976.9h-5M79.4 981.6v-2.2M79.4 953.2v2.6M108.9 981.6v-2.2M108.9 953.2v2.6M138.3 981.6v-2.2M138.3 953.2v2.6M167.8 981.6v-2.2M167.8 953.2v2.6M197.2 981.6v-2.2M197.2 953.2v2.6M226.7 981.6v-4M226.7 953.2v5M256.1 981.6v-2.2M256.1 953.2v2.6M285.6 981.6v-2.2M285.6 953.2v2.6M315 981.6v-2.2M315 953.2v2.6M344.4 981.6v-2.2M344.4 953.2v2.6M373.9 981.6v-2.2M373.9 953.2v2.6M403.3 981.6v-4M403.3 953.2v5M432.8 981.6v-2.2M432.8 953.2v2.6M462.2 981.6v-2.2M462.2 953.2v2.6M491.7 981.6v-2.2M491.7 953.2v2.6M521.1 981.6v-2.2M521.1 953.2v2.6M550.6 981.6v-2.2M550.6 953.2v2.6M50 986.3h5M580 986.3h-5M50 991.1h5M580 991.1h-5M50 995.8h10.5M580 995.8h-10.5M50 1000.5h5M580 1000.5h-5M50 1005.3h5M580 1005.3h-5M79.4 1010v-2.2M79.4 981.6v2.6M108.9 1010v-2.2M108.9 981.6v2.6M138.3 1010v-2.2M138.3 981.6v2.6M167.8 1010v-2.2M167.8 981.6v2.6M197.2 1010v-2.2M197.2 981.6v2.6M226.7 1010v-4M226.7 981.6v5M256.1 1010v-2.2M256.1 981.6v2.6M285.6 1010v-2.2M285.6 981.6v2.6M315 1010v-2.2M315 981.6v2.6M344.4 1010v-2.2M344.4 981.6v2.6M373.9 1010v-2.2M373.9 981.6v2.6M403.3 1010v-4M403.3 981.6v5M432.8 1010v-2.2M432.8 981.6v2.6M462.2 1010v-2.2M462.2 981.6v2.6M491.7 1010v-2.2M491.7 981.6v2.6M521.1 1010v-2.2M521.1 981.6v2.6M550.6 1010v-2.2M550.6 981.6v2.6M50 1014.7h5M580 1014.7h-5M50 1019.5h5M580 1019.5h-5M50 1024.2h10.5M580 1024.2h-10.5M50 1028.9h5M580 1028.9h-5M50 1033.7h5M580 1033.7h-5M79.4 1038.4v-2.2M79.4 1010v2.6M108.9 1038.4v-2.2M108.9 1010v2.6M138.3 1038.4v-2.2M138.3 1010v2.6M167.8 1038.4v-2.2M167.8 1010v2.6M197.2 1038.4v-2.2M197.2 1010v2.6M226.7 1038.4v-4M226.7 1010v5M256.1 1038.4v-2.2M256.1 1010v2.6M285.6 1038.4v-2.2M285.6 1010v2.6M315 1038.4v-2.2M315 1010v2.6M344.4 1038.4v-2.2M344.4 1010v2.6M373.9 1038.4v-2.2M373.9 1010v2.6M403.3 1038.4v-4M403.3 1010v5M432.8 1038.4v-2.2M432.8 1010v2.6M462.2 1038.4v-2.2M462.2 1010v2.6M491.7 1038.4v-2.2M491.7 1010v2.6M521.1 1038.4v-2.2M521.1 1010v2.6M550.6 1038.4v-2.2M550.6 1010v2.6M50 1043.1h5M580 1043.1h-5M50 1047.9h5M580 1047.9h-5M50 1052.6h10.5M580 1052.6h-10.5M50 1057.3h5M580 1057.3h-5M50 1062h5M580 1062h-5M79.4 1066.8v-2.2M79.4 1038.4v2.6M108.9 1066.8v-2.2M108.9 1038.4v2.6M138.3 1066.8v-2.2M138.3 1038.4v2.6M167.8 1066.8v-2.2M167.8 1038.4v2.6M197.2 1066.8v-2.2M197.2 1038.4v2.6M226.7 1066.8v-4M226.7 1038.4v5M256.1 1066.8v-2.2M256.1 1038.4v2.6M285.6 1066.8v-2.2M285.6 1038.4v2.6M315 1066.8v-2.2M315 1038.4v2.6M344.4 1066.8v-2.2M344.4 1038.4v2.6M373.9 1066.8v-2.2M373.9 1038.4v2.6M403.3 1066.8v-4M403.3 1038.4v5M432.8 1066.8v-2.2M432.8 1038.4v2.6M462.2 1066.8v-2.2M462.2 1038.4v2.6M491.7 1066.8v-2.2M491.7 1038.4v2.6M521.1 1066.8v-2.2M521.1 1038.4v2.6M550.6 1066.8v-2.2M550.6 1038.4v2.6M50 1071.5h5M580 1071.5h-5M50 1076.2h5M580 1076.2h-5M50 1081h10.5M580 1081h-10.5M50 1085.7h5M580 1085.7h-5M50 1090.4h5M580 1090.4h-5M79.4 1095.2v-2.2M79.4 1066.8v2.6M108.9 1095.2v-2.2M108.9 1066.8v2.6M138.3 1095.2v-2.2M138.3 1066.8v2.6M167.8 1095.2v-2.2M167.8 1066.8v2.6M197.2 1095.2v-2.2M197.2 1066.8v2.6M226.7 1095.2v-4M226.7 1066.8v5M256.1 1095.2v-2.2M256.1 1066.8v2.6M285.6 1095.2v-2.2M285.6 1066.8v2.6M315 1095.2v-2.2M315 1066.8v2.6M344.4 1095.2v-2.2M344.4 1066.8v2.6M373.9 1095.2v-2.2M373.9 1066.8v2.6M403.3 1095.2v-4M403.3 1066.8v5M432.8 1095.2v-2.2M432.8 1066.8v2.6M462.2 1095.2v-2.2M462.2 1066.8v2.6M491.7 1095.2v-2.2M491.7 1066.8v2.6M521.1 1095.2v-2.2M521.1 1066.8v2.6M550.6 1095.2v-2.2M550.6 1066.8v2.6M50 1099.9h5M580 1099.9h-5M50 1104.6h5M580 1104.6h-5M50 1109.4h10.5M580 1109.4h-10.5M50 1114.1h5M580 1114.1h-5M50 1118.8h5M580 1118.8h-5M79.4 1123.6v-2.2M79.4 1095.2v2.6M108.9 1123.6v-2.2M108.9 1095.2v2.6M138.3 1123.6v-2.2M138.3 1095.2v2.6M167.8 1123.6v-2.2M167.8 1095.2v2.6M197.2 1123.6v-2.2M197.2 1095.2v2.6M226.7 1123.6v-4M226.7 1095.2v5M256.1 1123.6v-2.2M256.1 1095.2v2.6M285.6 1123.6v-2.2M285.6 1095.2v2.6M315 1123.6v-2.2M315 1095.2v2.6M344.4 1123.6v-2.2M344.4 1095.2v2.6M373.9 1123.6v-2.2M373.9 1095.2v2.6M403.3 1123.6v-4M403.3 1095.2v5M432.8 1123.6v-2.2M432.8 1095.2v2.6M462.2 1123.6v-2.2M462.2 1095.2v2.6M491.7 1123.6v-2.2M491.7 1095.2v2.6M521.1 1123.6v-2.2M521.1 1095.2v2.6M550.6 1123.6v-2.2M550.6 1095.2v2.6M50 1128.3h5M580 1128.3h-5M50 1133h5M580 1133h-5M50 1137.8h10.5M580 1137.8h-10.5M50 1142.5h5M580 1142.5h-5M50 1147.2h5M580 1147.2h-5M79.4 1152v-2.2M79.4 1123.6v2.6M108.9 1152v-2.2M108.9 1123.6v2.6M138.3 1152v-2.2M138.3 1123.6v2.6M167.8 1152v-2.2M167.8 1123.6v2.6M197.2 1152v-2.2M197.2 1123.6v2.6M226.7 1152v-4M226.7 1123.6v5M256.1 1152v-2.2M256.1 1123.6v2.6M285.6 1152v-2.2M285.6 1123.6v2.6M315 1152v-2.2M315 1123.6v2.6M344.4 1152v-2.2M344.4 1123.6v2.6M373.9 1152v-2.2M373.9 1123.6v2.6M403.3 1152v-4M403.3 1123.6v5M432.8 1152v-2.2M432.8 1123.6v2.6M462.2 1152v-2.2M462.2 1123.6v2.6M491.7 1152v-2.2M491.7 1123.6v2.6M521.1 1152v-2.2M521.1 1123.6v2.6M550.6 1152v-2.2M550.6 1123.6v2.6M50 1156.7h5M580 1156.7h-5M50 1161.4h5M580 1161.4h-5M50 1166.1h10.5M580 1166.1h-10.5M50 1170.9h5M580 1170.9h-5M50 1175.6h5M580 1175.6h-5M79.4 1180.3v-2.2M79.4 1152v2.6M108.9 1180.3v-2.2M108.9 1152v2.6M138.3 1180.3v-2.2M138.3 1152v2.6M167.8 1180.3v-2.2M167.8 1152v2.6M197.2 1180.3v-2.2M197.2 1152v2.6M226.7 1180.3v-4M226.7 1152v5M256.1 1180.3v-2.2M256.1 1152v2.6M285.6 1180.3v-2.2M285.6 1152v2.6M315 1180.3v-2.2M315 1152v2.6M344.4 1180.3v-2.2M344.4 1152v2.6M373.9 1180.3v-2.2M373.9 1152v2.6M403.3 1180.3v-4M403.3 1152v5M432.8 1180.3v-2.2M432.8 1152v2.6M462.2 1180.3v-2.2M462.2 1152v2.6M491.7 1180.3v-2.2M491.7 1152v2.6M521.1 1180.3v-2.2M521.1 1152v2.6M550.6 1180.3v-2.2M550.6 1152v2.6M50 1185.1h5M580 1185.1h-5M50 1189.8h5M580 1189.8h-5M50 1194.5h10.5M580 1194.5h-10.5M50 1199.3h5M580 1199.3h-5M50 1204h5M580 1204h-5M79.4 1208.7v-2.2M79.4 1180.3v2.6M108.9 1208.7v-2.2M108.9 1180.3v2.6M138.3 1208.7v-2.2M138.3 1180.3v2.6M167.8 1208.7v-2.2M167.8 1180.3v2.6M197.2 1208.7v-2.2M197.2 1180.3v2.6M226.7 1208.7v-4M226.7 1180.3v5M256.1 1208.7v-2.2M256.1 1180.3v2.6M285.6 1208.7v-2.2M285.6 1180.3v2.6M315 1208.7v-2.2M315 1180.3v2.6M344.4 1208.7v-2.2M344.4 1180.3v2.6M373.9 1208.7v-2.2M373.9 1180.3v2.6M403.3 1208.7v-4M403.3 1180.3v5M432.8 1208.7v-2.2M432.8 1180.3v2.6M462.2 1208.7v-2.2M462.2 1180.3v2.6M491.7 1208.7v-2.2M491.7 1180.3v2.6M521.1 1208.7v-2.2M521.1 1180.3v2.6M550.6 1208.7v-2.2M550.6 1180.3v2.6M50 1213.5h5M580 1213.5h-5M50 1218.2h5M580 1218.2h-5M50 1222.9h10.5M580 1222.9h-10.5M50 1227.7h5M580 1227.7h-5M50 1232.4h5M580 1232.4h-5M79.4 1237.1v-2.2M79.4 1208.7v2.6M108.9 1237.1v-2.2M108.9 1208.7v2.6M138.3 1237.1v-2.2M138.3 1208.7v2.6M167.8 1237.1v-2.2M167.8 1208.7v2.6M197.2 1237.1v-2.2M197.2 1208.7v2.6M226.7 1237.1v-4M226.7 1208.7v5M256.1 1237.1v-2.2M256.1 1208.7v2.6M285.6 1237.1v-2.2M285.6 1208.7v2.6M315 1237.1v-2.2M315 1208.7v2.6M344.4 1237.1v-2.2M344.4 1208.7v2.6M373.9 1237.1v-2.2M373.9 1208.7v2.6M403.3 1237.1v-4M403.3 1208.7v5M432.8 1237.1v-2.2M432.8 1208.7v2.6M462.2 1237.1v-2.2M462.2 1208.7v2.6M491.7 1237.1v-2.2M491.7 1208.7v2.6M521.1 1237.1v-2.2M521.1 1208.7v2.6M550.6 1237.1v-2.2M550.6 1208.7v2.6M50 1241.9h5M580 1241.9h-5M50 1246.6h5M580 1246.6h-5M50 1251.3h10.5M580 1251.3h-10.5M50 1256h5M580 1256h-5M50 1260.8h5M580 1260.8h-5M79.4 1265.5v-2.2M79.4 1237.1v2.6M108.9 1265.5v-2.2M108.9 1237.1v2.6M138.3 1265.5v-2.2M138.3 1237.1v2.6M167.8 1265.5v-2.2M167.8 1237.1v2.6M197.2 1265.5v-2.2M197.2 1237.1v2.6M226.7 1265.5v-4M226.7 1237.1v5M256.1 1265.5v-2.2M256.1 1237.1v2.6M285.6 1265.5v-2.2M285.6 1237.1v2.6M315 1265.5v-2.2M315 1237.1v2.6M344.4 1265.5v-2.2M344.4 1237.1v2.6M373.9 1265.5v-2.2M373.9 1237.1v2.6M403.3 1265.5v-4M403.3 1237.1v5M432.8 1265.5v-2.2M432.8 1237.1v2.6M462.2 1265.5v-2.2M462.2 1237.1v2.6M491.7 1265.5v-2.2M491.7 1237.1v2.6M521.1 1265.5v-2.2M521.1 1237.1v2.6M550.6 1265.5v-2.2M550.6 1237.1v2.6M50 1270.2h5M580 1270.2h-5M50 1275h5M580 1275h-5M50 1279.7h10.5M580 1279.7h-10.5M50 1284.4h5M580 1284.4h-5M50 1289.2h5M580 1289.2h-5M79.4 1293.9v-2.2M79.4 1265.5v2.6M108.9 1293.9v-2.2M108.9 1265.5v2.6M138.3 1293.9v-2.2M138.3 1265.5v2.6M167.8 1293.9v-2.2M167.8 1265.5v2.6M197.2 1293.9v-2.2M197.2 1265.5v2.6M226.7 1293.9v-4M226.7 1265.5v5M256.1 1293.9v-2.2M256.1 1265.5v2.6M285.6 1293.9v-2.2M285.6 1265.5v2.6M315 1293.9v-2.2M315 1265.5v2.6M344.4 1293.9v-2.2M344.4 1265.5v2.6M373.9 1293.9v-2.2M373.9 1265.5v2.6M403.3 1293.9v-4M403.3 1265.5v5M432.8 1293.9v-2.2M432.8 1265.5v2.6M462.2 1293.9v-2.2M462.2 1265.5v2.6M491.7 1293.9v-2.2M491.7 1265.5v2.6M521.1 1293.9v-2.2M521.1 1265.5v2.6M550.6 1293.9v-2.2M550.6 1265.5v2.6M50 1298.6h5M580 1298.6h-5M50 1303.4h5M580 1303.4h-5M50 1308.1h10.5M580 1308.1h-10.5M50 1312.8h5M580 1312.8h-5M50 1317.6h5M580 1317.6h-5M79.4 1322.3v-2.2M79.4 1293.9v2.6M108.9 1322.3v-2.2M108.9 1293.9v2.6M138.3 1322.3v-2.2M138.3 1293.9v2.6M167.8 1322.3v-2.2M167.8 1293.9v2.6M197.2 1322.3v-2.2M197.2 1293.9v2.6M226.7 1322.3v-4M226.7 1293.9v5M256.1 1322.3v-2.2M256.1 1293.9v2.6M285.6 1322.3v-2.2M285.6 1293.9v2.6M315 1322.3v-2.2M315 1293.9v2.6M344.4 1322.3v-2.2M344.4 1293.9v2.6M373.9 1322.3v-2.2M373.9 1293.9v2.6M403.3 1322.3v-4M403.3 1293.9v5M432.8 1322.3v-2.2M432.8 1293.9v2.6M462.2 1322.3v-2.2M462.2 1293.9v2.6M491.7 1322.3v-2.2M491.7 1293.9v2.6M521.1 1322.3v-2.2M521.1 1293.9v2.6M550.6 1322.3v-2.2M550.6 1293.9v2.6M50 1327h5M580 1327h-5M50 1331.8h5M580 1331.8h-5M50 1336.5h10.5M580 1336.5h-10.5M50 1341.2h5M580 1341.2h-5M50 1345.9h5M580 1345.9h-5M79.4 1350.7v-2.2M79.4 1322.3v2.6M108.9 1350.7v-2.2M108.9 1322.3v2.6M138.3 1350.7v-2.2M138.3 1322.3v2.6M167.8 1350.7v-2.2M167.8 1322.3v2.6M197.2 1350.7v-2.2M197.2 1322.3v2.6M226.7 1350.7v-4M226.7 1322.3v5M256.1 1350.7v-2.2M256.1 1322.3v2.6M285.6 1350.7v-2.2M285.6 1322.3v2.6M315 1350.7v-2.2M315 1322.3v2.6M344.4 1350.7v-2.2M344.4 1322.3v2.6M373.9 1350.7v-2.2M373.9 1322.3v2.6M403.3 1350.7v-4M403.3 1322.3v5M432.8 1350.7v-2.2M432.8 1322.3v2.6M462.2 1350.7v-2.2M462.2 1322.3v2.6M491.7 1350.7v-2.2M491.7 1322.3v2.6M521.1 1350.7v-2.2M521.1 1322.3v2.6M550.6 1350.7v-2.2M550.6 1322.3v2.6M50 1355.4h5M580 1355.4h-5M50 1360.1h5M580 1360.1h-5M50 1364.9h10.5M580 1364.9h-10.5M50 1369.6h5M580 1369.6h-5M50 1374.3h5M580 1374.3h-5M79.4 1379.1v-2.2M79.4 1350.7v2.6M108.9 1379.1v-2.2M108.9 1350.7v2.6M138.3 1379.1v-2.2M138.3 1350.7v2.6M167.8 1379.1v-2.2M167.8 1350.7v2.6M197.2 1379.1v-2.2M197.2 1350.7v2.6M226.7 1379.1v-4M226.7 1350.7v5M256.1 1379.1v-2.2M256.1 1350.7v2.6M285.6 1379.1v-2.2M285.6 1350.7v2.6M315 1379.1v-2.2M315 1350.7v2.6M344.4 1379.1v-2.2M344.4 1350.7v2.6M373.9 1379.1v-2.2M373.9 1350.7v2.6M403.3 1379.1v-4M403.3 1350.7v5M432.8 1379.1v-2.2M432.8 1350.7v2.6M462.2 1379.1v-2.2M462.2 1350.7v2.6M491.7 1379.1v-2.2M491.7 1350.7v2.6M521.1 1379.1v-2.2M521.1 1350.7v2.6M550.6 1379.1v-2.2M550.6 1350.7v2.6M50 1383.8h5M580 1383.8h-5M50 1388.5h5M580 1388.5h-5M50 1393.3h10.5M580 1393.3h-10.5M50 1398h5M580 1398h-5M50 1402.7h5M580 1402.7h-5M79.4 1407.5v-2.2M79.4 1379.1v2.6M108.9 1407.5v-2.2M108.9 1379.1v2.6M138.3 1407.5v-2.2M138.3 1379.1v2.6M167.8 1407.5v-2.2M167.8 1379.1v2.6M197.2 1407.5v-2.2M197.2 1379.1v2.6M226.7 1407.5v-4M226.7 1379.1v5M256.1 1407.5v-2.2M256.1 1379.1v2.6M285.6 1407.5v-2.2M285.6 1379.1v2.6M315 1407.5v-2.2M315 1379.1v2.6M344.4 1407.5v-2.2M344.4 1379.1v2.6M373.9 1407.5v-2.2M373.9 1379.1v2.6M403.3 1407.5v-4M403.3 1379.1v5M432.8 1407.5v-2.2M432.8 1379.1v2.6M462.2 1407.5v-2.2M462.2 1379.1v2.6M491.7 1407.5v-2.2M491.7 1379.1v2.6M521.1 1407.5v-2.2M521.1 1379.1v2.6M550.6 1407.5v-2.2M550.6 1379.1v2.6M50 1412.2h5M580 1412.2h-5M50 1416.9h5M580 1416.9h-5M50 1421.7h10.5M580 1421.7h-10.5M50 1426.4h5M580 1426.4h-5M50 1431.1h5M580 1431.1h-5M79.4 1435.9v-2.2M79.4 1407.5v2.6M108.9 1435.9v-2.2M108.9 1407.5v2.6M138.3 1435.9v-2.2M138.3 1407.5v2.6M167.8 1435.9v-2.2M167.8 1407.5v2.6M197.2 1435.9v-2.2M197.2 1407.5v2.6M226.7 1435.9v-4M226.7 1407.5v5M256.1 1435.9v-2.2M256.1 1407.5v2.6M285.6 1435.9v-2.2M285.6 1407.5v2.6M315 1435.9v-2.2M315 1407.5v2.6M344.4 1435.9v-2.2M344.4 1407.5v2.6M373.9 1435.9v-2.2M373.9 1407.5v2.6M403.3 1435.9v-4M403.3 1407.5v5M432.8 1435.9v-2.2M432.8 1407.5v2.6M462.2 1435.9v-2.2M462.2 1407.5v2.6M491.7 1435.9v-2.2M491.7 1407.5v2.6M521.1 1435.9v-2.2M521.1 1407.5v2.6M550.6 1435.9v-2.2M550.6 1407.5v2.6M49.4 726.1H580.6M49.4 754.5H580.6M49.4 782.9H580.6M49.4 811.3H580.6M49.4 839.7H580.6M49.4 868H580.6M49.4 896.4H580.6M49.4 924.8H580.6M49.4 953.2H580.6M49.4 981.6H580.6M49.4 1010H580.6M49.4 1038.4H580.6M49.4 1066.8H580.6M49.4 1095.2H580.6M49.4 1123.6H580.6M49.4 1152H580.6M49.4 1180.3H580.6M49.4 1208.7H580.6M49.4 1237.1H580.6M49.4 1265.5H580.6M49.4 1293.9H580.6M49.4 1322.3H580.6M49.4 1350.7H580.6M49.4 1379.1H580.6M49.4 1407.5H580.6M49.4 1435.8H580.6M50 726.1V1435.8M580 726.1V1435.8" stroke="#000" stroke-width="1.25" fill="none"/>
<text x="45.9" y="732.1" text-anchor="end" font-size="15.6" textLength="7.3" lengthAdjust="spacingAndGlyphs">8</text>
<text x="45.9" y="744.3" text-anchor="end" font-size="16.2" textLength="7.3" lengthAdjust="spacingAndGlyphs">5</text>
<text class="d" x="62.6" y="740.7" font-size="16" textLength="64.6" lengthAdjust="spacingAndGlyphs">11/04/1997</text>
<text x="45.9" y="760.5" text-anchor="end" font-size="15.6" textLength="7.3" lengthAdjust="spacingAndGlyphs">8</text>
<text x="45.9" y="772.7" text-anchor="end" font-size="16.2" textLength="7.3" lengthAdjust="spacingAndGlyphs">5</text>
<text class="d" x="62.6" y="769.1" font-size="16" textLength="64.6" lengthAdjust="spacingAndGlyphs">04/02/2001</text>
<text x="45.9" y="788.9" text-anchor="end" font-size="15.6" textLength="7.3" lengthAdjust="spacingAndGlyphs">8</text>
<text x="45.9" y="801.1" text-anchor="end" font-size="16.2" textLength="7.3" lengthAdjust="spacingAndGlyphs">5</text>
<text class="d" x="62.6" y="797.5" font-size="16" textLength="64.6" lengthAdjust="spacingAndGlyphs">11/06/1997</text>
<text x="45.9" y="817.3" text-anchor="end" font-size="15.6" textLength="7.3" lengthAdjust="spacingAndGlyphs">8</text>
<text x="45.9" y="829.5" text-anchor="end" font-size="16.2" textLength="7.3" lengthAdjust="spacingAndGlyphs">5</text>
<text class="d" x="62.6" y="825.9" font-size="16" textLength="64.6" lengthAdjust="spacingAndGlyphs">04/15/2001</text>
<text x="45.9" y="845.7" text-anchor="end" font-size="15.6" textLength="7.3" lengthAdjust="spacingAndGlyphs">8</text>
<text x="45.9" y="857.9" text-anchor="end" font-size="16.2" textLength="7.3" lengthAdjust="spacingAndGlyphs">5</text>
<text class="d" x="62.6" y="854.3" font-size="16" textLength="64.6" lengthAdjust="spacingAndGlyphs">06/04/1999</text>
<text x="45.9" y="874" text-anchor="end" font-size="15.6" textLength="7.3" lengthAdjust="spacingAndGlyphs">8</text>
<text x="45.9" y="886.2" text-anchor="end" font-size="16.2" textLength="7.3" lengthAdjust="spacingAndGlyphs">5</text>
<text class="d" x="62.6" y="882.6" font-size="16" textLength="64.6" lengthAdjust="spacingAndGlyphs">08/22/2002</text>
<text x="45.9" y="902.4" text-anchor="end" font-size="15.6" textLength="7.3" lengthAdjust="spacingAndGlyphs">8</text>
<text x="45.9" y="914.6" text-anchor="end" font-size="16.2" textLength="7.3" lengthAdjust="spacingAndGlyphs">5</text>
<text class="d" x="62.6" y="911" font-size="16" textLength="64.6" lengthAdjust="spacingAndGlyphs">05/06/1998</text>
<text x="45.9" y="930.8" text-anchor="end" font-size="15.6" textLength="7.3" lengthAdjust="spacingAndGlyphs">8</text>
<text x="45.9" y="943" text-anchor="end" font-size="16.2" textLength="7.3" lengthAdjust="spacingAndGlyphs">5</text>
<text class="d" x="62.6" y="939.4" font-size="16" textLength="64.6" lengthAdjust="spacingAndGlyphs">04/11/2004</text>
<text x="45.9" y="959.2" text-anchor="end" font-size="15.6" textLength="7.3" lengthAdjust="spacingAndGlyphs">8</text>
<text x="45.9" y="971.4" text-anchor="end" font-size="16.2" textLength="7.3" lengthAdjust="spacingAndGlyphs">5</text>
<text class="d" x="62.6" y="967.8" font-size="16" textLength="64.6" lengthAdjust="spacingAndGlyphs">05/31/2003</text>
<text x="45.9" y="987.6" text-anchor="end" font-size="15.6" textLength="7.3" lengthAdjust="spacingAndGlyphs">8</text>
<text x="45.9" y="999.8" text-anchor="end" font-size="16.2" textLength="7.3" lengthAdjust="spacingAndGlyphs">5</text>
<text class="d" x="62.6" y="996.2" font-size="16" textLength="64.6" lengthAdjust="spacingAndGlyphs">11/10/2004</text>
<text x="45.9" y="1016" text-anchor="end" font-size="15.6" textLength="7.3" lengthAdjust="spacingAndGlyphs">8</text>
<text x="45.9" y="1028.2" text-anchor="end" font-size="16.2" textLength="7.3" lengthAdjust="spacingAndGlyphs">5</text>
<text class="d" x="62.6" y="1024.6" font-size="16" textLength="64.6" lengthAdjust="spacingAndGlyphs">11/09/2002</text>
<text x="45.9" y="1044.4" text-anchor="end" font-size="15.6" textLength="7.3" lengthAdjust="spacingAndGlyphs">8</text>
<text x="45.9" y="1056.6" text-anchor="end" font-size="16.2" textLength="7.3" lengthAdjust="spacingAndGlyphs">5</text>
<text class="d" x="62.6" y="1053" font-size="16" textLength="64.6" lengthAdjust="spacingAndGlyphs">06/10/2000</text>
<text x="45.9" y="1072.8" text-anchor="end" font-size="15.6" textLength="7.3" lengthAdjust="spacingAndGlyphs">8</text>
<text x="45.9" y="1085" text-anchor="end" font-size="16.2" textLength="7.3" lengthAdjust="spacingAndGlyphs">5</text>
<text class="d" x="62.6" y="1081.4" font-size="16" textLength="64.6" lengthAdjust="spacingAndGlyphs">03/18/2002</text>
<text x="45.9" y="1101.2" text-anchor="end" font-size="15.6" textLength="7.3" lengthAdjust="spacingAndGlyphs">8</text>
<text x="45.9" y="1113.4" text-anchor="end" font-size="16.2" textLength="7.3" lengthAdjust="spacingAndGlyphs">5</text>
<text class="d" x="62.6" y="1109.8" font-size="16" textLength="64.6" lengthAdjust="spacingAndGlyphs">07/22/2000</text>
<text x="45.9" y="1129.6" text-anchor="end" font-size="15.6" textLength="7.3" lengthAdjust="spacingAndGlyphs">8</text>
<text x="45.9" y="1141.8" text-anchor="end" font-size="16.2" textLength="7.3" lengthAdjust="spacingAndGlyphs">5</text>
<text class="d" x="62.6" y="1138.2" font-size="16" textLength="64.6" lengthAdjust="spacingAndGlyphs">04/12/2001</text>
<text x="45.9" y="1158" text-anchor="end" font-size="15.6" textLength="7.3" lengthAdjust="spacingAndGlyphs">8</text>
<text x="45.9" y="1170.2" text-anchor="end" font-size="16.2" textLength="7.3" lengthAdjust="spacingAndGlyphs">5</text>
<text class="d" x="62.6" y="1166.5" font-size="16" textLength="64.6" lengthAdjust="spacingAndGlyphs">01/28/2001</text>
<text x="45.9" y="1186.3" text-anchor="end" font-size="15.6" textLength="7.3" lengthAdjust="spacingAndGlyphs">8</text>
<text x="45.9" y="1198.5" text-anchor="end" font-size="16.2" textLength="7.3" lengthAdjust="spacingAndGlyphs">5</text>
<text class="d" x="62.6" y="1194.9" font-size="16" textLength="64.6" lengthAdjust="spacingAndGlyphs">09/19/2004</text>
<text x="45.9" y="1214.7" text-anchor="end" font-size="15.6" textLength="7.3" lengthAdjust="spacingAndGlyphs">8</text>
<text x="45.9" y="1226.9" text-anchor="end" font-size="16.2" textLength="7.3" lengthAdjust="spacingAndGlyphs">5</text>
<text class="d" x="62.6" y="1223.3" font-size="16" textLength="64.6" lengthAdjust="spacingAndGlyphs">08/14/2002</text>
<text x="45.9" y="1243.1" text-anchor="end" font-size="15.6" textLength="7.3" lengthAdjust="spacingAndGlyphs">8</text>
<text x="45.9" y="1255.3" text-anchor="end" font-size="16.2" textLength="7.3" lengthAdjust="spacingAndGlyphs">5</text>
<text class="d" x="62.6" y="1251.7" font-size="16" textLength="64.6" lengthAdjust="spacingAndGlyphs">11/08/2000</text>
<text x="45.9" y="1271.5" text-anchor="end" font-size="15.6" textLength="7.3" lengthAdjust="spacingAndGlyphs">8</text>
<text x="45.9" y="1283.7" text-anchor="end" font-size="16.2" textLength="7.3" lengthAdjust="spacingAndGlyphs">5</text>
<text class="d" x="62.6" y="1280.1" font-size="16" textLength="64.6" lengthAdjust="spacingAndGlyphs">09/30/1998</text>
<text x="45.9" y="1299.9" text-anchor="end" font-size="15.6" textLength="7.3" lengthAdjust="spacingAndGlyphs">8</text>
<text x="45.9" y="1312.1" text-anchor="end" font-size="16.2" textLength="7.3" lengthAdjust="spacingAndGlyphs">5</text>
<text class="d" x="62.6" y="1308.5" font-size="16" textLength="64.6" lengthAdjust="spacingAndGlyphs">11/22/2001</text>
<text x="45.9" y="1328.3" text-anchor="end" font-size="15.6" textLength="7.3" lengthAdjust="spacingAndGlyphs">8</text>
<text x="45.9" y="1340.5" text-anchor="end" font-size="16.2" textLength="7.3" lengthAdjust="spacingAndGlyphs">5</text>
<text class="d" x="62.6" y="1336.9" font-size="16" textLength="64.6" lengthAdjust="spacingAndGlyphs">12/26/2001</text>
<text x="45.9" y="1356.7" text-anchor="end" font-size="15.6" textLength="7.3" lengthAdjust="spacingAndGlyphs">8</text>
<text x="45.9" y="1368.9" text-anchor="end" font-size="16.2" textLength="7.3" lengthAdjust="spacingAndGlyphs">5</text>
<text class="d" x="62.6" y="1365.3" font-size="16" textLength="64.6" lengthAdjust="spacingAndGlyphs">04/21/2002</text>
<text x="45.9" y="1385.1" text-anchor="end" font-size="15.6" textLength="7.3" lengthAdjust="spacingAndGlyphs">8</text>
<text x="45.9" y="1397.3" text-anchor="end" font-size="16.2" textLength="7.3" lengthAdjust="spacingAndGlyphs">5</text>
<text class="d" x="62.6" y="1393.7" font-size="16" textLength="64.6" lengthAdjust="spacingAndGlyphs">04/04/2000</text>
<text x="45.9" y="1413.5" text-anchor="end" font-size="15.6" textLength="7.3" lengthAdjust="spacingAndGlyphs">8</text>
<text x="45.9" y="1425.7" text-anchor="end" font-size="16.2" textLength="7.3" lengthAdjust="spacingAndGlyphs">5</text>
<text class="d" x="62.6" y="1422.1" font-size="16" textLength="64.6" lengthAdjust="spacingAndGlyphs">07/25/2004</text>
<text x="50" y="1450.3" text-anchor="middle" font-size="16" textLength="33.5" lengthAdjust="spacingAndGlyphs">00:00</text>
<text x="226.7" y="1450.3" text-anchor="middle" font-size="16" textLength="33.5" lengthAdjust="spacingAndGlyphs">01:00</text>
<text x="403.3" y="1450.3" text-anchor="middle" font-size="16" textLength="33.5" lengthAdjust="spacingAndGlyphs">02:00</text>
<text x="580" y="1450.3" text-anchor="middle" font-size="16" textLength="33.5" lengthAdjust="spacingAndGlyphs">03:00</text>
<text x="276.5" y="1474" font-size="19" textLength="76.5" lengthAdjust="spacingAndGlyphs">Time (UT)</text>
<text transform="translate(18.1,472.3) rotate(-90)" font-size="20" textLength="262.9" lengthAdjust="spacingAndGlyphs">Log[Waves 1 MHz Intensity (sfu)]</text>
<text transform="translate(18.1,1212) rotate(-90)" font-size="20" textLength="262.9" lengthAdjust="spacingAndGlyphs">Log[Waves 1 MHz Intensity (sfu)]</text>
</svg></body></html>
